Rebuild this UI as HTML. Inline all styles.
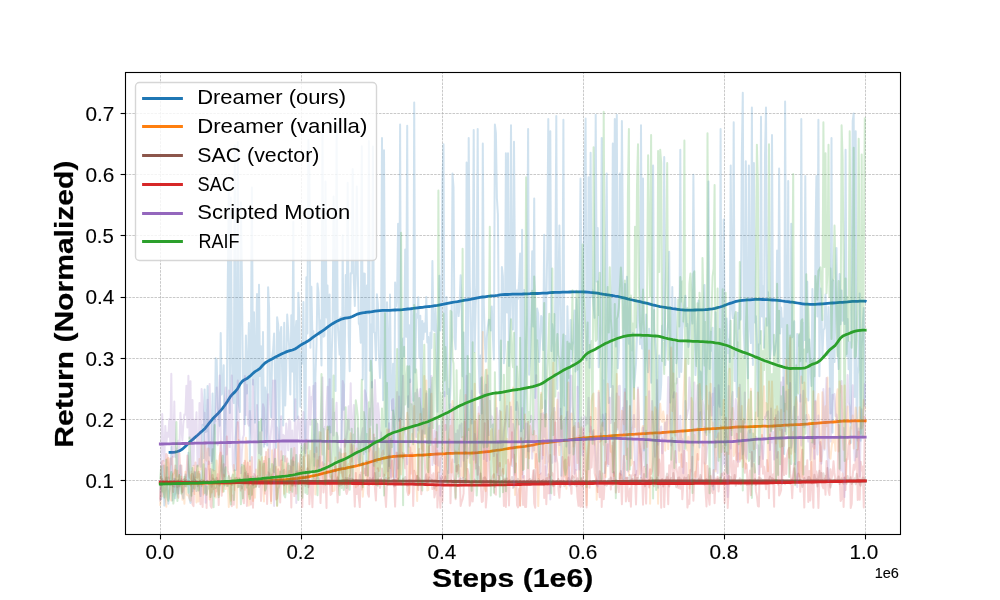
<!DOCTYPE html><html><head><meta charset="utf-8"><style>html,body{margin:0;padding:0;background:#fff;width:1000px;height:600px;overflow:hidden}svg{display:block;will-change:transform}text{font-family:"Liberation Sans",sans-serif;fill:#000}</style></head><body>
<svg width="1000" height="600" viewBox="0 0 1000 600">
<rect x="0" y="0" width="1000" height="600" fill="#fff"/>
<defs><clipPath id="ax"><rect x="125" y="72" width="776" height="463"/></clipPath></defs>
<g stroke="#b0b0b0" stroke-opacity="1.0" stroke-width="0.69" stroke-dasharray="2.57 1.11" fill="none"><line x1="160.5" y1="534" x2="160.5" y2="72"/><line x1="301.5" y1="534" x2="301.5" y2="72"/><line x1="442.5" y1="534" x2="442.5" y2="72"/><line x1="583.5" y1="534" x2="583.5" y2="72"/><line x1="724.5" y1="534" x2="724.5" y2="72"/><line x1="865.5" y1="534" x2="865.5" y2="72"/><line x1="125" y1="480.5" x2="900" y2="480.5"/><line x1="125" y1="419.5" x2="900" y2="419.5"/><line x1="125" y1="358.5" x2="900" y2="358.5"/><line x1="125" y1="297.5" x2="900" y2="297.5"/><line x1="125" y1="235.5" x2="900" y2="235.5"/><line x1="125" y1="174.5" x2="900" y2="174.5"/><line x1="125" y1="113.5" x2="900" y2="113.5"/></g>
<g clip-path="url(#ax)" fill="none" stroke-linejoin="round" stroke-linecap="square">
<path stroke="#1f77b4" stroke-width="2.0" stroke-opacity="0.21" d="M160.2 484.1L161.2 499.1L162.2 487.5L163.3 465.5L164.3 505.6L165.3 498.5L166.3 485.3L167.3 467.2L168.3 503.7L169.3 495.0L170.3 486.8L171.3 447.1L172.3 500.5L173.3 490.9L174.3 478.7L175.3 498.2L176.4 483.5L177.4 483.1L178.4 493.5L179.4 483.9L180.4 465.4L181.4 486.9L182.4 494.3L183.4 498.6L184.4 485.4L185.4 474.5L186.4 486.5L187.4 484.3L188.4 452.8L189.5 498.7L190.5 502.9L191.5 484.7L192.5 491.3L193.5 480.7L194.5 471.8L195.5 483.6L196.5 491.1L197.5 481.4L198.5 481.9L199.5 489.6L200.5 496.1L201.6 479.4L202.6 424.8L203.6 458.1L204.6 389.6L205.6 432.1L206.6 431.2L207.6 386.1L208.6 437.2L209.6 455.5L210.6 442.1L211.6 461.1L212.6 393.6L213.6 470.4L214.7 434.3L215.7 358.3L216.7 359.9L217.7 407.6L218.7 413.6L219.7 425.8L220.7 332.9L221.7 394.4L222.7 392.1L223.7 365.3L224.7 485.6L225.7 410.0L226.8 397.0L227.8 282.0L228.8 188.5L229.8 413.1L230.8 197.5L231.8 353.4L232.8 395.3L233.8 403.0L234.8 145.6L235.8 469.9L236.8 376.9L237.8 141.9L238.8 403.8L239.9 412.1L240.9 202.3L241.9 278.9L242.9 382.4L243.9 360.3L244.9 424.2L245.9 335.4L246.9 393.4L247.9 363.0L248.9 323.0L249.9 461.0L250.9 351.3L251.9 187.4L253.0 384.4L254.0 312.3L255.0 422.7L256.0 346.2L257.0 294.1L258.0 441.4L259.0 284.8L260.0 376.1L261.0 346.3L262.0 430.4L263.0 331.9L264.0 446.7L265.1 387.4L266.1 399.2L267.1 445.6L268.1 287.3L269.1 308.4L270.1 397.5L271.1 417.3L272.1 356.7L273.1 350.2L274.1 333.5L275.1 384.2L276.1 447.8L277.1 317.2L278.2 324.6L279.2 442.2L280.2 333.2L281.2 327.1L282.2 374.9L283.2 425.4L284.2 322.7L285.2 405.5L286.2 372.0L287.2 314.5L288.2 330.7L289.2 347.7L290.3 394.4L291.3 315.3L292.3 371.6L293.3 221.8L294.3 420.7L295.3 334.4L296.3 321.1L297.3 418.6L298.3 292.7L299.3 316.0L300.3 406.8L301.3 353.8L302.3 363.5L303.4 301.9L304.4 398.1L305.4 453.0L306.4 277.2L307.4 333.5L308.4 140.1L309.4 171.7L310.4 347.7L311.4 286.7L312.4 338.1L313.4 331.2L314.4 465.8L315.4 378.1L316.5 344.7L317.5 283.6L318.5 293.0L319.5 334.7L320.5 320.5L321.5 365.5L322.5 128.9L323.5 336.7L324.5 335.8L325.5 181.5L326.5 317.5L327.5 285.5L328.6 449.0L329.6 294.6L330.6 432.4L331.6 358.2L332.6 326.4L333.6 196.5L334.6 300.4L335.6 391.1L336.6 125.9L337.6 321.6L338.6 338.2L339.6 354.6L340.6 317.2L341.7 441.3L342.7 235.2L343.7 409.8L344.7 357.9L345.7 275.1L346.7 316.2L347.7 182.7L348.7 335.8L349.7 371.3L350.7 273.2L351.7 273.5L352.7 168.9L353.8 279.2L354.8 305.9L355.8 274.8L356.8 186.5L357.8 273.7L358.8 323.3L359.8 325.5L360.8 342.7L361.8 146.3L362.8 379.6L363.8 273.6L364.8 273.8L365.8 475.2L366.9 285.5L367.9 313.5L368.9 140.9L369.9 370.8L370.9 324.4L371.9 387.5L372.9 146.6L373.9 332.0L374.9 333.0L375.9 360.2L376.9 294.3L377.9 304.0L378.9 354.5L380.0 377.9L381.0 353.1L382.0 138.1L383.0 400.3L384.0 150.3L385.0 340.9L386.0 426.8L387.0 302.3L388.0 335.5L389.0 466.2L390.0 294.6L391.0 388.7L392.1 410.3L393.1 363.7L394.1 484.7L395.1 282.4L396.1 306.3L397.1 294.0L398.1 223.7L399.1 420.7L400.1 124.6L401.1 418.7L402.1 353.8L403.1 338.6L404.1 356.7L405.2 249.4L406.2 336.8L407.2 125.8L408.2 406.9L409.2 325.2L410.2 382.0L411.2 308.9L412.2 334.4L413.2 400.7L414.2 102.6L415.2 372.6L416.2 314.2L417.2 317.7L418.3 297.3L419.3 358.0L420.3 315.7L421.3 421.1L422.3 320.9L423.3 339.3L424.3 323.6L425.3 331.7L426.3 297.1L427.3 342.5L428.3 336.9L429.3 457.1L430.4 332.8L431.4 348.0L432.4 261.0L433.4 329.5L434.4 330.9L435.4 308.2L436.4 335.1L437.4 411.8L438.4 337.9L439.4 275.8L440.4 330.4L441.4 305.9L442.4 183.3L443.5 144.2L444.5 396.3L445.5 341.8L446.5 296.9L447.5 394.0L448.5 389.0L449.5 408.5L450.5 386.8L451.5 339.9L452.5 173.5L453.5 187.0L454.5 338.0L455.6 349.2L456.6 301.7L457.6 302.5L458.6 316.1L459.6 304.4L460.6 275.3L461.6 304.1L462.6 376.2L463.6 332.5L464.6 454.1L465.6 435.1L466.6 162.5L467.6 439.6L468.7 138.1L469.7 278.4L470.7 329.8L471.7 423.4L472.7 308.6L473.7 130.1L474.7 351.7L475.7 304.4L476.7 286.4L477.7 128.9L478.7 362.3L479.7 392.7L480.7 355.4L481.8 413.4L482.8 143.6L483.8 304.3L484.8 340.8L485.8 361.6L486.8 337.2L487.8 327.2L488.8 319.7L489.8 320.2L490.8 330.5L491.8 306.5L492.8 334.4L493.9 359.4L494.9 124.6L495.9 133.2L496.9 198.0L497.9 214.5L498.9 341.4L499.9 400.2L500.9 378.0L501.9 267.1L502.9 276.7L503.9 363.3L504.9 348.5L505.9 153.3L507.0 312.6L508.0 153.3L509.0 366.0L510.0 314.7L511.0 125.2L512.0 299.8L513.0 329.6L514.0 141.7L515.0 284.0L516.0 410.1L517.0 290.2L518.0 298.8L519.1 281.4L520.1 253.6L521.1 431.3L522.1 229.8L523.1 428.4L524.1 290.1L525.1 442.3L526.1 356.2L527.1 314.6L528.1 128.9L529.1 374.8L530.1 357.4L531.1 322.3L532.2 251.2L533.2 326.5L534.2 198.6L535.2 398.0L536.2 359.9L537.2 308.6L538.2 313.6L539.2 361.9L540.2 339.2L541.2 315.9L542.2 321.5L543.2 350.0L544.2 234.7L545.3 417.8L546.3 301.5L547.3 248.7L548.3 119.1L549.3 290.0L550.3 131.3L551.3 351.1L552.3 324.3L553.3 336.1L554.3 360.8L555.3 295.9L556.3 116.0L557.4 389.1L558.4 295.5L559.4 225.5L560.4 310.3L561.4 475.8L562.4 332.5L563.4 119.7L564.4 405.5L565.4 336.1L566.4 446.5L567.4 306.3L568.4 348.5L569.4 453.2L570.5 319.9L571.5 360.9L572.5 346.7L573.5 339.5L574.5 310.6L575.5 371.4L576.5 299.0L577.5 328.9L578.5 427.3L579.5 313.4L580.5 178.4L581.5 287.2L582.6 359.2L583.6 281.3L584.6 169.2L585.6 118.5L586.6 360.3L587.6 331.4L588.6 177.2L589.6 367.7L590.6 152.7L591.6 296.9L592.6 290.2L593.6 305.3L594.6 317.8L595.7 114.8L596.7 281.4L597.7 228.0L598.7 367.3L599.7 353.4L600.7 322.7L601.7 138.1L602.7 425.8L603.7 380.6L604.7 473.0L605.7 272.8L606.7 173.5L607.7 340.2L608.8 403.0L609.8 295.4L610.8 386.9L611.8 357.5L612.8 143.6L613.8 336.7L614.8 119.1L615.8 346.5L616.8 114.8L617.8 368.2L618.8 351.1L619.8 173.5L620.9 299.1L621.9 120.9L622.9 241.4L623.9 480.3L624.9 283.9L625.9 429.8L626.9 276.8L627.9 322.2L628.9 343.7L629.9 298.2L630.9 458.5L631.9 366.0L632.9 333.0L634.0 387.2L635.0 375.9L636.0 363.5L637.0 336.3L638.0 303.7L639.0 300.4L640.0 344.3L641.0 125.2L642.0 348.5L643.0 178.4L644.0 450.4L645.0 362.8L646.1 314.5L647.1 357.0L648.1 372.3L649.1 328.7L650.1 357.6L651.1 382.7L652.1 306.2L653.1 165.6L654.1 329.9L655.1 337.8L656.1 358.8L657.1 432.2L658.1 487.7L659.2 355.4L660.2 399.4L661.2 383.9L662.2 325.7L663.2 340.2L664.2 157.0L665.2 365.0L666.2 340.9L667.2 333.2L668.2 322.0L669.2 251.8L670.2 402.5L671.2 386.9L672.3 287.0L673.3 397.4L674.3 320.0L675.3 297.8L676.3 363.2L677.3 342.3L678.3 343.1L679.3 377.1L680.3 149.7L681.3 371.9L682.3 329.8L683.3 320.6L684.4 304.5L685.4 295.7L686.4 326.1L687.4 323.8L688.4 346.9L689.4 341.7L690.4 310.5L691.4 313.7L692.4 323.6L693.4 174.8L694.4 304.7L695.4 375.1L696.4 355.3L697.5 330.4L698.5 300.4L699.5 447.4L700.5 371.6L701.5 375.9L702.5 399.1L703.5 309.4L704.5 284.9L705.5 432.6L706.5 373.6L707.5 340.1L708.5 181.5L709.6 369.0L710.6 331.7L711.6 350.7L712.6 327.7L713.6 489.4L714.6 379.3L715.6 312.3L716.6 437.6L717.6 345.6L718.6 401.9L719.6 406.8L720.6 128.9L721.6 414.9L722.7 308.9L723.7 219.4L724.7 328.3L725.7 445.3L726.7 318.6L727.7 353.0L728.7 339.5L729.7 362.0L730.7 165.6L731.7 305.6L732.7 318.1L733.7 122.2L734.7 381.1L735.8 351.0L736.8 397.0L737.8 312.7L738.8 328.8L739.8 300.7L740.8 319.5L741.8 157.0L742.8 92.8L743.8 332.8L744.8 358.0L745.8 161.3L746.8 317.0L747.9 378.2L748.9 165.6L749.9 324.7L750.9 343.1L751.9 107.5L752.9 364.9L753.9 163.1L754.9 322.5L755.9 316.3L756.9 342.8L757.9 416.3L758.9 344.4L759.9 343.7L761.0 116.7L762.0 316.5L763.0 286.2L764.0 347.8L765.0 155.2L766.0 107.5L767.0 325.8L768.0 292.2L769.0 320.1L770.0 358.7L771.0 348.4L772.0 135.0L773.1 342.2L774.1 355.5L775.1 350.1L776.1 339.7L777.1 250.6L778.1 362.1L779.1 168.6L780.1 333.5L781.1 307.6L782.1 326.9L783.1 318.5L784.1 454.0L785.1 101.4L786.2 339.6L787.2 383.8L788.2 180.9L789.2 425.4L790.2 407.5L791.2 223.7L792.2 337.2L793.2 329.7L794.2 321.3L795.2 464.2L796.2 426.8L797.2 334.0L798.2 345.8L799.3 335.0L800.3 401.4L801.3 119.1L802.3 383.0L803.3 323.1L804.3 339.9L805.3 176.0L806.3 361.4L807.3 281.8L808.3 400.6L809.3 339.5L810.3 363.9L811.4 386.0L812.4 289.0L813.4 328.9L814.4 444.1L815.4 245.7L816.4 176.0L817.4 316.4L818.4 119.7L819.4 376.3L820.4 288.4L821.4 308.0L822.4 357.4L823.4 330.2L824.5 328.3L825.5 294.5L826.5 322.2L827.5 355.2L828.5 307.0L829.5 349.8L830.5 413.4L831.5 138.1L832.5 432.8L833.5 280.6L834.5 362.0L835.5 300.2L836.5 248.1L837.6 348.9L838.6 369.1L839.6 274.1L840.6 324.3L841.6 290.5L842.6 320.8L843.6 301.3L844.6 324.0L845.6 149.7L846.6 356.1L847.6 319.1L848.6 369.3L849.7 342.2L850.7 443.1L851.7 295.8L852.7 120.9L853.7 113.6L854.7 397.1L855.7 131.3L856.7 456.9L857.7 374.7L858.7 365.8L859.7 293.6L860.7 440.7L861.7 348.8L862.8 324.5L863.8 307.9L864.8 405.6"/>
<path stroke="#1f77b4" stroke-width="2.78" d="M170.0 452.3L172.5 452.3L175.0 452.1L177.5 451.5L180.0 450.6L182.5 449.0L185.0 446.8L187.5 444.3L190.0 441.8L192.5 439.6L195.0 437.4L197.5 435.2L200.0 432.9L202.5 430.7L205.0 428.4L207.5 425.4L210.0 422.1L212.5 419.1L215.0 416.6L217.5 414.1L220.0 411.3L222.5 408.3L225.0 405.0L227.5 401.2L230.0 397.2L232.5 394.1L235.0 391.9L237.5 388.9L240.0 384.2L242.5 381.0L245.0 379.5L247.5 378.2L250.0 376.2L252.5 373.8L255.0 371.6L257.5 370.1L260.0 368.4L262.5 365.5L265.0 363.0L267.5 361.4L270.0 360.0L272.5 358.7L275.0 357.3L277.5 356.1L280.0 354.8L282.5 353.5L285.0 352.4L287.5 351.4L290.0 350.7L292.5 350.0L295.0 349.0L297.5 347.4L300.0 345.6L302.5 344.0L305.0 342.7L307.5 341.3L310.0 339.6L312.5 337.7L315.0 335.9L317.5 334.2L320.0 332.5L322.5 330.8L325.0 329.1L327.5 327.2L330.0 325.4L332.5 323.7L335.0 322.3L337.5 320.9L340.0 319.7L342.5 318.8L345.0 318.2L347.5 317.8L350.0 317.4L352.5 316.5L355.0 315.2L357.5 314.1L360.0 313.4L362.5 312.9L365.0 312.5L367.5 312.2L370.0 312.0L372.5 311.6L375.0 311.2L377.5 310.8L380.0 310.6L382.5 310.4L385.0 310.4L387.5 310.4L390.0 310.3L392.5 310.1L395.0 310.0L397.5 309.9L400.0 309.8L402.5 309.6L405.0 309.3L407.5 309.0L410.0 308.8L412.5 308.5L415.0 308.1L417.5 307.8L420.0 307.5L422.5 307.3L425.0 306.9L427.5 306.7L430.0 306.5L432.5 306.1L435.0 305.7L437.5 305.3L440.0 304.8L442.5 304.3L445.0 303.8L447.5 303.3L450.0 302.8L452.5 302.4L455.0 302.0L457.5 301.6L460.0 301.1L462.5 300.7L465.0 300.2L467.5 299.8L470.0 299.4L472.5 298.9L475.0 298.3L477.5 297.8L480.0 297.3L482.5 297.0L485.0 296.8L487.5 296.4L490.0 296.0L492.5 295.8L495.0 295.6L497.5 295.3L500.0 294.9L502.5 294.7L505.0 294.5L507.5 294.5L510.0 294.4L512.5 294.2L515.0 294.1L517.5 294.1L520.0 294.1L522.5 294.0L525.0 293.8L527.5 293.8L530.0 293.7L532.5 293.5L535.0 293.5L537.5 293.5L540.0 293.4L542.5 293.2L545.0 293.1L547.5 293.0L550.0 292.7L552.5 292.5L555.0 292.4L557.5 292.3L560.0 292.3L562.5 292.2L565.0 292.2L567.5 292.2L570.0 292.0L572.5 291.9L575.0 291.9L577.5 291.9L580.0 291.9L582.5 291.9L585.0 292.0L587.5 292.1L590.0 292.4L592.5 292.6L595.0 292.9L597.5 293.2L600.0 293.7L602.5 294.1L605.0 294.5L607.5 294.8L610.0 295.2L612.5 295.5L615.0 296.0L617.5 296.4L620.0 297.0L622.5 297.6L625.0 298.2L627.5 298.9L630.0 299.5L632.5 300.0L635.0 300.6L637.5 301.2L640.0 301.7L642.5 302.3L645.0 302.8L647.5 303.4L650.0 304.1L652.5 304.8L655.0 305.4L657.5 306.0L660.0 306.6L662.5 307.0L665.0 307.4L667.5 307.8L670.0 308.2L672.5 308.6L675.0 308.9L677.5 309.3L680.0 309.7L682.5 309.9L685.0 310.1L687.5 310.2L690.0 310.2L692.5 310.1L695.0 310.0L697.5 309.9L700.0 309.9L702.5 309.8L705.0 309.7L707.5 309.5L710.0 309.2L712.5 308.9L715.0 308.4L717.5 307.7L720.0 307.0L722.5 306.2L725.0 305.2L727.5 304.3L730.0 303.4L732.5 302.6L735.0 301.7L737.5 301.1L740.0 300.7L742.5 300.3L745.0 300.1L747.5 299.9L750.0 299.8L752.5 299.6L755.0 299.4L757.5 299.3L760.0 299.4L762.5 299.5L765.0 299.6L767.5 299.7L770.0 299.8L772.5 300.0L775.0 300.2L777.5 300.4L780.0 300.6L782.5 301.0L785.0 301.4L787.5 301.7L790.0 302.0L792.5 302.2L795.0 302.6L797.5 303.0L800.0 303.4L802.5 303.8L805.0 304.2L807.5 304.2L810.0 304.3L812.5 304.4L815.0 304.4L817.5 304.2L820.0 304.0L822.5 303.9L825.0 303.6L827.5 303.4L830.0 303.2L832.5 303.0L835.0 302.8L837.5 302.6L840.0 302.4L842.5 302.3L845.0 302.1L847.5 301.9L850.0 301.6L852.5 301.4L855.0 301.4L857.5 301.3L860.0 301.1L862.5 301.1L865.0 301.1L865.2 301.2"/>
<path stroke="#ff7f0e" stroke-width="2.0" stroke-opacity="0.19" d="M160.2 504.9L161.2 476.8L162.2 496.3L163.3 489.7L164.3 465.6L165.3 497.7L166.3 506.7L167.3 459.1L168.3 458.0L169.3 481.0L170.3 498.6L171.3 500.6L172.3 475.9L173.3 473.9L174.3 472.9L175.3 469.7L176.4 482.3L177.4 470.7L178.4 482.8L179.4 475.3L180.4 486.5L181.4 476.8L182.4 499.8L183.4 486.4L184.4 503.8L185.4 471.8L186.4 493.6L187.4 495.2L188.4 494.6L189.5 498.4L190.5 500.6L191.5 471.8L192.5 473.2L193.5 465.8L194.5 493.9L195.5 477.8L196.5 502.4L197.5 466.1L198.5 501.6L199.5 459.0L200.5 469.5L201.6 443.4L202.6 473.0L203.6 494.6L204.6 441.7L205.6 458.0L206.6 460.6L207.6 448.7L208.6 448.5L209.6 499.4L210.6 485.6L211.6 492.5L212.6 469.7L213.6 488.9L214.7 470.9L215.7 497.4L216.7 460.4L217.7 469.7L218.7 494.7L219.7 455.7L220.7 452.6L221.7 469.8L222.7 492.0L223.7 474.4L224.7 479.0L225.7 489.1L226.8 482.2L227.8 483.6L228.8 507.0L229.8 481.8L230.8 500.8L231.8 481.4L232.8 484.6L233.8 465.0L234.8 489.8L235.8 477.9L236.8 507.7L237.8 458.7L238.8 440.0L239.9 482.4L240.9 470.4L241.9 467.1L242.9 483.0L243.9 463.0L244.9 489.7L245.9 437.8L246.9 449.9L247.9 490.9L248.9 505.6L249.9 460.8L250.9 477.3L251.9 493.5L253.0 500.9L254.0 482.0L255.0 497.8L256.0 469.5L257.0 478.6L258.0 471.6L259.0 459.8L260.0 475.5L261.0 467.7L262.0 457.2L263.0 469.5L264.0 501.5L265.1 456.7L266.1 473.9L267.1 467.9L268.1 449.4L269.1 482.2L270.1 469.3L271.1 503.3L272.1 450.2L273.1 479.3L274.1 482.6L275.1 482.7L276.1 466.9L277.1 506.0L278.2 442.8L279.2 475.3L280.2 479.3L281.2 451.3L282.2 460.8L283.2 467.5L284.2 493.8L285.2 456.3L286.2 471.8L287.2 491.9L288.2 479.8L289.2 471.0L290.3 490.1L291.3 460.2L292.3 486.2L293.3 459.2L294.3 447.9L295.3 466.6L296.3 493.6L297.3 473.2L298.3 463.3L299.3 468.2L300.3 481.0L301.3 467.5L302.3 480.1L303.4 474.4L304.4 451.0L305.4 442.1L306.4 439.9L307.4 461.5L308.4 482.7L309.4 476.9L310.4 451.1L311.4 469.0L312.4 442.5L313.4 477.2L314.4 453.9L315.4 494.4L316.5 475.9L317.5 460.2L318.5 462.0L319.5 466.2L320.5 432.5L321.5 466.8L322.5 474.2L323.5 480.5L324.5 464.1L325.5 483.2L326.5 479.7L327.5 427.3L328.6 460.7L329.6 444.3L330.6 476.5L331.6 475.4L332.6 491.1L333.6 491.1L334.6 490.0L335.6 457.5L336.6 483.4L337.6 481.9L338.6 477.0L339.6 452.4L340.6 472.7L341.7 454.0L342.7 484.0L343.7 453.7L344.7 464.9L345.7 453.2L346.7 485.0L347.7 466.6L348.7 463.7L349.7 476.1L350.7 433.2L351.7 461.6L352.7 452.6L353.8 445.6L354.8 457.9L355.8 487.3L356.8 448.5L357.8 485.7L358.8 473.1L359.8 458.7L360.8 450.2L361.8 457.6L362.8 496.7L363.8 482.6L364.8 474.5L365.8 461.2L366.9 483.9L367.9 474.4L368.9 451.7L369.9 428.7L370.9 449.0L371.9 451.3L372.9 485.0L373.9 477.0L374.9 457.0L375.9 451.9L376.9 468.6L377.9 440.7L378.9 470.9L380.0 467.8L381.0 458.0L382.0 453.1L383.0 450.5L384.0 459.4L385.0 475.6L386.0 471.2L387.0 429.6L388.0 478.6L389.0 429.5L390.0 468.3L391.0 434.5L392.1 465.8L393.1 476.8L394.1 458.9L395.1 457.5L396.1 452.6L397.1 475.6L398.1 484.4L399.1 461.2L400.1 420.4L401.1 474.5L402.1 459.3L403.1 427.1L404.1 429.5L405.2 430.5L406.2 426.6L407.2 412.8L408.2 423.1L409.2 493.6L410.2 471.9L411.2 448.6L412.2 433.8L413.2 482.6L414.2 406.0L415.2 469.4L416.2 476.2L417.2 500.9L418.3 434.1L419.3 431.9L420.3 414.1L421.3 448.8L422.3 445.8L423.3 451.3L424.3 376.1L425.3 437.3L426.3 380.6L427.3 490.4L428.3 489.9L429.3 427.7L430.4 439.6L431.4 393.7L432.4 455.1L433.4 446.4L434.4 463.1L435.4 438.7L436.4 490.2L437.4 450.8L438.4 467.1L439.4 472.3L440.4 458.1L441.4 457.5L442.4 455.8L443.5 415.9L444.5 480.4L445.5 474.4L446.5 452.7L447.5 453.3L448.5 444.4L449.5 432.3L450.5 425.8L451.5 472.6L452.5 400.9L453.5 448.5L454.5 452.0L455.6 451.2L456.6 471.8L457.6 469.8L458.6 452.4L459.6 446.8L460.6 440.8L461.6 475.9L462.6 437.0L463.6 476.9L464.6 428.6L465.6 394.9L466.6 481.0L467.6 441.1L468.7 428.9L469.7 462.8L470.7 419.2L471.7 485.8L472.7 465.8L473.7 438.5L474.7 383.7L475.7 462.7L476.7 438.7L477.7 439.0L478.7 413.4L479.7 438.7L480.7 467.5L481.8 482.5L482.8 332.1L483.8 445.1L484.8 488.2L485.8 491.1L486.8 369.4L487.8 419.4L488.8 451.3L489.8 459.7L490.8 431.4L491.8 429.1L492.8 443.0L493.9 477.5L494.9 441.1L495.9 391.9L496.9 472.5L497.9 465.4L498.9 430.6L499.9 466.3L500.9 411.7L501.9 430.3L502.9 470.9L503.9 473.8L504.9 390.9L505.9 463.5L507.0 438.8L508.0 441.7L509.0 482.4L510.0 402.4L511.0 464.8L512.0 412.8L513.0 387.6L514.0 452.7L515.0 495.0L516.0 460.8L517.0 419.5L518.0 425.6L519.1 465.4L520.1 505.4L521.1 438.7L522.1 474.2L523.1 449.4L524.1 469.1L525.1 414.4L526.1 457.2L527.1 440.6L528.1 447.5L529.1 458.3L530.1 425.8L531.1 434.3L532.2 435.0L533.2 451.6L534.2 431.0L535.2 467.8L536.2 435.8L537.2 447.8L538.2 506.1L539.2 473.9L540.2 451.4L541.2 392.7L542.2 412.0L543.2 455.3L544.2 414.8L545.3 463.4L546.3 414.0L547.3 449.4L548.3 461.4L549.3 477.6L550.3 444.7L551.3 418.0L552.3 411.4L553.3 362.7L554.3 454.8L555.3 412.3L556.3 418.0L557.4 399.7L558.4 444.5L559.4 455.1L560.4 418.3L561.4 416.0L562.4 445.2L563.4 459.9L564.4 476.4L565.4 441.8L566.4 488.8L567.4 461.0L568.4 382.4L569.4 465.6L570.5 452.7L571.5 413.5L572.5 425.4L573.5 446.5L574.5 426.0L575.5 442.4L576.5 437.2L577.5 463.1L578.5 423.0L579.5 432.4L580.5 435.9L581.5 427.2L582.6 435.3L583.6 449.2L584.6 435.9L585.6 454.1L586.6 505.2L587.6 461.8L588.6 449.1L589.6 437.2L590.6 428.2L591.6 400.4L592.6 395.5L593.6 393.5L594.6 444.5L595.7 407.9L596.7 499.7L597.7 470.3L598.7 390.7L599.7 441.8L600.7 440.9L601.7 425.7L602.7 422.5L603.7 444.8L604.7 437.7L605.7 477.0L606.7 426.8L607.7 383.8L608.8 410.7L609.8 430.9L610.8 451.8L611.8 445.8L612.8 458.6L613.8 476.0L614.8 422.8L615.8 433.4L616.8 373.9L617.8 427.6L618.8 396.5L619.8 478.5L620.9 439.6L621.9 410.7L622.9 412.3L623.9 424.2L624.9 392.4L625.9 456.6L626.9 459.0L627.9 448.4L628.9 475.0L629.9 406.6L630.9 465.4L631.9 463.2L632.9 440.4L634.0 388.2L635.0 426.9L636.0 419.6L637.0 431.0L638.0 389.6L639.0 416.8L640.0 474.2L641.0 467.5L642.0 428.6L643.0 426.0L644.0 448.5L645.0 424.2L646.1 396.8L647.1 447.0L648.1 394.2L649.1 350.6L650.1 503.7L651.1 450.6L652.1 411.6L653.1 435.5L654.1 431.7L655.1 407.3L656.1 410.1L657.1 452.5L658.1 503.7L659.2 417.0L660.2 403.7L661.2 418.8L662.2 421.9L663.2 411.4L664.2 418.4L665.2 450.6L666.2 424.9L667.2 415.3L668.2 449.1L669.2 428.8L670.2 400.5L671.2 347.4L672.3 411.1L673.3 373.6L674.3 432.6L675.3 435.6L676.3 393.3L677.3 435.8L678.3 442.0L679.3 462.2L680.3 431.3L681.3 438.7L682.3 466.9L683.3 406.0L684.4 376.7L685.4 359.7L686.4 444.0L687.4 450.3L688.4 436.7L689.4 488.5L690.4 446.6L691.4 398.0L692.4 402.7L693.4 445.4L694.4 435.1L695.4 476.9L696.4 463.7L697.5 428.0L698.5 459.7L699.5 383.9L700.5 399.6L701.5 415.8L702.5 420.5L703.5 445.5L704.5 427.0L705.5 481.4L706.5 386.1L707.5 408.7L708.5 405.7L709.6 432.4L710.6 383.8L711.6 425.5L712.6 422.4L713.6 442.2L714.6 440.7L715.6 471.4L716.6 442.5L717.6 436.7L718.6 433.3L719.6 457.3L720.6 425.7L721.6 451.9L722.7 437.8L723.7 399.8L724.7 454.7L725.7 417.9L726.7 436.9L727.7 437.2L728.7 454.1L729.7 368.8L730.7 422.1L731.7 430.1L732.7 408.1L733.7 456.0L734.7 451.9L735.8 421.2L736.8 459.7L737.8 429.2L738.8 387.8L739.8 459.6L740.8 426.9L741.8 405.9L742.8 467.0L743.8 418.9L744.8 426.0L745.8 468.6L746.8 427.7L747.9 407.7L748.9 399.6L749.9 432.6L750.9 388.8L751.9 420.7L752.9 425.6L753.9 449.3L754.9 438.6L755.9 412.5L756.9 425.4L757.9 392.4L758.9 418.8L759.9 426.1L761.0 363.1L762.0 438.3L763.0 414.0L764.0 386.2L765.0 418.2L766.0 402.9L767.0 404.2L768.0 471.2L769.0 381.6L770.0 437.1L771.0 424.2L772.0 381.4L773.1 429.2L774.1 425.8L775.1 409.6L776.1 443.5L777.1 406.2L778.1 423.0L779.1 434.3L780.1 446.9L781.1 409.7L782.1 481.4L783.1 441.3L784.1 445.8L785.1 409.6L786.2 359.7L787.2 409.4L788.2 390.1L789.2 457.8L790.2 337.6L791.2 453.8L792.2 442.6L793.2 431.7L794.2 461.4L795.2 406.6L796.2 397.1L797.2 404.5L798.2 464.8L799.3 476.5L800.3 436.1L801.3 376.6L802.3 477.8L803.3 453.7L804.3 382.5L805.3 402.4L806.3 398.7L807.3 419.9L808.3 414.8L809.3 418.3L810.3 430.1L811.4 482.8L812.4 430.3L813.4 391.2L814.4 448.6L815.4 401.8L816.4 426.9L817.4 401.5L818.4 394.1L819.4 428.1L820.4 461.1L821.4 460.9L822.4 392.3L823.4 413.0L824.5 448.6L825.5 406.3L826.5 426.2L827.5 377.5L828.5 443.0L829.5 457.3L830.5 458.7L831.5 447.6L832.5 439.8L833.5 442.4L834.5 437.1L835.5 450.7L836.5 398.8L837.6 389.3L838.6 451.6L839.6 381.4L840.6 392.2L841.6 386.1L842.6 437.0L843.6 449.7L844.6 385.6L845.6 482.3L846.6 430.8L847.6 406.4L848.6 437.4L849.7 444.3L850.7 427.3L851.7 428.1L852.7 415.4L853.7 448.4L854.7 424.4L855.7 407.5L856.7 419.4L857.7 449.5L858.7 438.8L859.7 407.3L860.7 428.2L861.7 428.3L862.8 425.5L863.8 400.1L864.8 409.4"/>
<path stroke="#ff7f0e" stroke-width="2.78" d="M160.3 483.6L162.8 483.6L165.3 483.5L167.8 483.4L170.3 483.4L172.8 483.3L175.3 483.4L177.8 483.4L180.3 483.4L182.8 483.5L185.3 483.6L187.8 483.5L190.3 483.4L192.8 483.4L195.3 483.3L197.8 483.3L200.3 483.4L202.8 483.3L205.3 483.2L207.8 483.1L210.3 483.1L212.8 483.1L215.3 483.1L217.8 483.1L220.3 483.1L222.8 483.1L225.3 483.1L227.8 483.1L230.3 483.1L232.8 482.9L235.3 482.8L237.8 482.7L240.3 482.5L242.8 482.3L245.3 482.1L247.8 482.0L250.3 481.8L252.8 481.7L255.3 481.5L257.8 481.3L260.3 481.1L262.8 481.0L265.3 480.9L267.8 480.8L270.3 480.6L272.8 480.4L275.3 480.3L277.8 480.2L280.3 480.0L282.8 479.8L285.3 479.6L287.8 479.3L290.3 479.2L292.8 478.9L295.3 478.6L297.8 478.3L300.3 477.9L302.8 477.6L305.3 477.3L307.8 476.8L310.3 476.4L312.8 475.9L315.3 475.4L317.8 474.8L320.3 474.1L322.8 473.5L325.3 472.9L327.8 472.2L330.3 471.6L332.8 470.9L335.3 470.3L337.8 469.7L340.3 469.2L342.8 468.7L345.3 468.3L347.8 467.7L350.3 467.2L352.8 466.6L355.3 466.1L357.8 465.5L360.3 464.8L362.8 464.1L365.3 463.5L367.8 462.8L370.3 462.0L372.8 461.2L375.3 460.4L377.8 459.7L380.3 459.1L382.8 458.4L385.3 457.8L387.8 457.3L390.3 456.9L392.8 456.5L395.3 456.3L397.8 456.1L400.3 456.0L402.8 455.9L405.3 455.7L407.8 455.6L410.3 455.6L412.8 455.6L415.3 455.4L417.8 455.2L420.3 455.1L422.8 455.0L425.3 454.8L427.8 454.6L430.3 454.5L432.8 454.4L435.3 454.2L437.8 454.0L440.3 453.8L442.8 453.8L445.3 453.7L447.8 453.4L450.3 453.3L452.8 453.4L455.3 453.2L457.8 453.1L460.3 453.1L462.8 453.1L465.3 453.0L467.8 453.1L470.3 453.2L472.8 453.0L475.3 452.8L477.8 452.7L480.3 452.4L482.8 452.1L485.3 451.8L487.8 451.6L490.3 451.4L492.8 450.9L495.3 450.5L497.8 450.1L500.3 449.9L502.8 449.5L505.3 449.0L507.8 448.6L510.3 448.2L512.8 447.8L515.3 447.5L517.8 447.1L520.3 446.8L522.8 446.6L525.3 446.3L527.8 445.9L530.3 445.5L532.8 445.1L535.3 444.5L537.8 443.9L540.3 443.4L542.8 443.0L545.3 442.7L547.8 442.5L550.3 442.2L552.8 441.8L555.3 441.3L557.8 441.0L560.3 440.8L562.8 440.5L565.3 440.3L567.8 440.1L570.3 439.7L572.8 439.3L575.3 439.0L577.8 438.7L580.3 438.3L582.8 438.0L585.3 437.9L587.8 437.6L590.3 437.3L592.8 437.1L595.3 437.0L597.8 436.8L600.3 436.6L602.8 436.5L605.3 436.3L607.8 436.1L610.3 435.8L612.8 435.6L615.3 435.4L617.8 435.3L620.3 435.1L622.8 435.0L625.3 434.8L627.8 434.6L630.3 434.4L632.8 434.3L635.3 434.2L637.8 434.0L640.3 433.8L642.8 433.7L645.3 433.6L647.8 433.4L650.3 433.2L652.8 433.1L655.3 432.9L657.8 432.9L660.3 432.8L662.8 432.5L665.3 432.3L667.8 432.1L670.3 431.9L672.8 431.8L675.3 431.6L677.8 431.4L680.3 431.2L682.8 431.0L685.3 430.8L687.8 430.6L690.3 430.4L692.8 430.2L695.3 429.9L697.8 429.7L700.3 429.5L702.8 429.3L705.3 429.1L707.8 428.9L710.3 428.8L712.8 428.7L715.3 428.6L717.8 428.4L720.3 428.2L722.8 427.9L725.3 427.8L727.8 427.8L730.3 427.6L732.8 427.4L735.3 427.2L737.8 427.0L740.3 426.9L742.8 426.8L745.3 426.8L747.8 426.8L750.3 426.7L752.8 426.6L755.3 426.5L757.8 426.4L760.3 426.3L762.8 426.2L765.3 426.2L767.8 426.3L770.3 426.1L772.8 426.0L775.3 425.8L777.8 425.7L780.3 425.6L782.8 425.4L785.3 425.2L787.8 425.1L790.3 424.9L792.8 424.8L795.3 424.7L797.8 424.6L800.3 424.5L802.8 424.3L805.3 424.1L807.8 424.0L810.3 423.7L812.8 423.5L815.3 423.4L817.8 423.1L820.3 422.8L822.8 422.6L825.3 422.5L827.8 422.4L830.3 422.2L832.8 422.0L835.3 421.8L837.8 421.5L840.3 421.3L842.8 421.1L845.3 421.0L847.8 421.0L850.3 421.1L852.8 420.9L855.3 420.8L857.8 420.8L860.3 420.8L862.8 420.8L865.2 420.8"/>
<path stroke="#8c564b" stroke-width="2.0" stroke-opacity="0.21" d="M160.2 481.2L161.2 484.5L162.2 479.0L163.3 481.8L164.3 484.2L165.3 481.7L166.3 477.5L167.3 481.8L168.3 477.5L169.3 482.6L170.3 484.1L171.3 481.5L172.3 485.1L173.3 486.0L174.3 486.6L175.3 479.2L176.4 482.8L177.4 487.2L178.4 480.1L179.4 485.8L180.4 484.2L181.4 479.3L182.4 484.6L183.4 479.8L184.4 483.8L185.4 481.9L186.4 480.0L187.4 482.0L188.4 482.2L189.5 481.6L190.5 485.6L191.5 481.9L192.5 473.7L193.5 478.5L194.5 482.9L195.5 480.2L196.5 481.5L197.5 486.0L198.5 483.7L199.5 482.2L200.5 481.2L201.6 483.8L202.6 483.3L203.6 481.0L204.6 480.8L205.6 483.4L206.6 483.1L207.6 480.7L208.6 484.0L209.6 481.3L210.6 469.0L211.6 486.7L212.6 478.6L213.6 479.0L214.7 480.4L215.7 479.7L216.7 477.7L217.7 479.9L218.7 483.9L219.7 485.5L220.7 482.0L221.7 481.5L222.7 482.3L223.7 483.5L224.7 483.7L225.7 483.6L226.8 482.4L227.8 486.1L228.8 482.1L229.8 482.9L230.8 480.4L231.8 484.8L232.8 482.1L233.8 482.8L234.8 483.1L235.8 481.2L236.8 481.1L237.8 479.8L238.8 478.4L239.9 479.1L240.9 480.1L241.9 488.5L242.9 483.1L243.9 482.4L244.9 473.1L245.9 480.8L246.9 480.6L247.9 473.7L248.9 484.7L249.9 481.8L250.9 477.0L251.9 482.9L253.0 485.2L254.0 480.7L255.0 482.1L256.0 482.0L257.0 479.9L258.0 482.4L259.0 487.0L260.0 484.1L261.0 482.4L262.0 479.8L263.0 483.3L264.0 480.7L265.1 479.4L266.1 478.5L267.1 483.7L268.1 481.8L269.1 481.5L270.1 482.5L271.1 478.2L272.1 482.7L273.1 479.4L274.1 483.1L275.1 480.1L276.1 478.4L277.1 478.4L278.2 482.5L279.2 482.4L280.2 480.5L281.2 479.0L282.2 482.1L283.2 479.6L284.2 485.3L285.2 480.8L286.2 480.2L287.2 484.3L288.2 481.8L289.2 479.3L290.3 478.4L291.3 482.9L292.3 485.2L293.3 476.9L294.3 485.4L295.3 485.7L296.3 479.9L297.3 480.2L298.3 484.1L299.3 479.7L300.3 478.9L301.3 483.1L302.3 479.6L303.4 476.6L304.4 481.9L305.4 485.9L306.4 471.0L307.4 468.4L308.4 487.2L309.4 480.7L310.4 482.9L311.4 479.0L312.4 481.8L313.4 481.0L314.4 482.9L315.4 482.4L316.5 478.9L317.5 477.4L318.5 478.3L319.5 483.0L320.5 482.9L321.5 481.5L322.5 480.9L323.5 484.1L324.5 482.9L325.5 482.9L326.5 482.8L327.5 483.5L328.6 480.4L329.6 484.3L330.6 484.2L331.6 478.9L332.6 472.4L333.6 483.2L334.6 471.5L335.6 480.5L336.6 480.0L337.6 477.4L338.6 480.6L339.6 485.7L340.6 481.7L341.7 484.8L342.7 481.2L343.7 481.3L344.7 484.4L345.7 477.9L346.7 479.9L347.7 478.0L348.7 484.1L349.7 478.6L350.7 480.3L351.7 478.6L352.7 479.3L353.8 481.7L354.8 483.2L355.8 480.0L356.8 480.3L357.8 484.1L358.8 484.5L359.8 474.7L360.8 482.0L361.8 484.5L362.8 484.2L363.8 483.3L364.8 480.6L365.8 483.7L366.9 480.0L367.9 482.7L368.9 485.0L369.9 478.1L370.9 479.3L371.9 480.5L372.9 478.3L373.9 481.9L374.9 473.1L375.9 484.9L376.9 484.9L377.9 479.2L378.9 483.2L380.0 480.2L381.0 478.7L382.0 482.2L383.0 483.7L384.0 481.7L385.0 480.0L386.0 478.1L387.0 479.3L388.0 483.9L389.0 478.1L390.0 484.3L391.0 482.0L392.1 482.5L393.1 483.4L394.1 486.5L395.1 485.7L396.1 481.5L397.1 482.7L398.1 478.4L399.1 481.9L400.1 482.9L401.1 480.7L402.1 484.6L403.1 478.6L404.1 480.9L405.2 476.9L406.2 484.1L407.2 485.5L408.2 485.4L409.2 479.9L410.2 482.0L411.2 479.6L412.2 483.8L413.2 484.6L414.2 483.1L415.2 482.1L416.2 480.3L417.2 475.9L418.3 479.2L419.3 478.3L420.3 482.6L421.3 483.5L422.3 484.3L423.3 482.4L424.3 483.9L425.3 478.1L426.3 474.3L427.3 485.4L428.3 483.1L429.3 477.4L430.4 481.0L431.4 479.5L432.4 480.7L433.4 482.0L434.4 488.5L435.4 482.2L436.4 486.1L437.4 479.9L438.4 472.6L439.4 481.3L440.4 478.2L441.4 480.3L442.4 483.8L443.5 479.8L444.5 482.3L445.5 476.4L446.5 483.4L447.5 481.0L448.5 482.8L449.5 481.7L450.5 480.8L451.5 480.0L452.5 484.7L453.5 483.1L454.5 480.1L455.6 481.3L456.6 481.7L457.6 484.8L458.6 479.6L459.6 485.3L460.6 478.6L461.6 485.7L462.6 477.7L463.6 482.4L464.6 483.5L465.6 479.2L466.6 483.3L467.6 480.6L468.7 481.0L469.7 482.4L470.7 483.5L471.7 481.9L472.7 484.6L473.7 481.8L474.7 479.6L475.7 483.5L476.7 481.3L477.7 481.9L478.7 484.5L479.7 481.2L480.7 473.4L481.8 484.0L482.8 483.9L483.8 477.8L484.8 477.3L485.8 479.3L486.8 481.5L487.8 481.9L488.8 481.9L489.8 480.4L490.8 484.0L491.8 482.5L492.8 485.7L493.9 481.4L494.9 487.0L495.9 480.6L496.9 483.9L497.9 482.7L498.9 475.9L499.9 484.1L500.9 484.0L501.9 480.8L502.9 481.7L503.9 479.6L504.9 480.6L505.9 480.5L507.0 478.4L508.0 483.1L509.0 482.4L510.0 480.1L511.0 481.5L512.0 476.9L513.0 488.0L514.0 480.6L515.0 481.9L516.0 484.2L517.0 481.5L518.0 478.9L519.1 484.1L520.1 480.9L521.1 483.2L522.1 482.6L523.1 483.9L524.1 483.0L525.1 481.2L526.1 481.7L527.1 480.8L528.1 481.3L529.1 480.0L530.1 478.9L531.1 481.4L532.2 480.3L533.2 480.4L534.2 469.9L535.2 482.3L536.2 482.3L537.2 482.8L538.2 479.2L539.2 481.1L540.2 481.2L541.2 483.6L542.2 481.2L543.2 479.8L544.2 485.3L545.3 481.4L546.3 478.1L547.3 484.7L548.3 474.3L549.3 479.9L550.3 476.7L551.3 482.5L552.3 480.0L553.3 486.2L554.3 485.5L555.3 482.4L556.3 481.2L557.4 483.9L558.4 479.0L559.4 482.0L560.4 487.0L561.4 480.7L562.4 480.9L563.4 480.8L564.4 486.2L565.4 484.7L566.4 481.7L567.4 483.6L568.4 477.9L569.4 484.8L570.5 485.0L571.5 479.0L572.5 476.1L573.5 477.4L574.5 485.0L575.5 480.5L576.5 486.3L577.5 478.2L578.5 484.2L579.5 482.4L580.5 484.9L581.5 477.9L582.6 486.3L583.6 480.9L584.6 480.8L585.6 480.5L586.6 483.6L587.6 484.0L588.6 482.1L589.6 482.0L590.6 481.4L591.6 482.2L592.6 483.2L593.6 483.9L594.6 481.8L595.7 480.3L596.7 484.5L597.7 482.2L598.7 479.8L599.7 471.3L600.7 481.4L601.7 482.8L602.7 482.5L603.7 481.8L604.7 484.9L605.7 483.4L606.7 485.6L607.7 483.0L608.8 479.3L609.8 481.9L610.8 477.5L611.8 480.5L612.8 485.1L613.8 472.3L614.8 481.3L615.8 480.3L616.8 480.4L617.8 482.7L618.8 483.2L619.8 482.4L620.9 470.9L621.9 478.7L622.9 480.3L623.9 481.3L624.9 483.6L625.9 477.8L626.9 479.3L627.9 477.5L628.9 482.3L629.9 475.1L630.9 479.4L631.9 479.1L632.9 479.0L634.0 480.6L635.0 474.7L636.0 484.7L637.0 478.0L638.0 478.2L639.0 483.1L640.0 482.3L641.0 478.0L642.0 481.2L643.0 482.2L644.0 474.0L645.0 486.3L646.1 482.2L647.1 481.2L648.1 481.7L649.1 479.8L650.1 484.3L651.1 477.5L652.1 478.2L653.1 484.4L654.1 486.3L655.1 482.3L656.1 482.3L657.1 477.6L658.1 482.4L659.2 481.6L660.2 484.8L661.2 484.0L662.2 478.9L663.2 486.4L664.2 482.5L665.2 483.0L666.2 477.7L667.2 473.6L668.2 479.3L669.2 486.5L670.2 480.2L671.2 477.9L672.3 483.0L673.3 473.1L674.3 479.6L675.3 481.5L676.3 487.2L677.3 484.0L678.3 477.7L679.3 477.5L680.3 483.5L681.3 479.5L682.3 482.0L683.3 482.0L684.4 477.4L685.4 479.2L686.4 477.8L687.4 481.4L688.4 474.9L689.4 480.4L690.4 480.6L691.4 481.1L692.4 479.3L693.4 480.6L694.4 480.8L695.4 479.3L696.4 481.7L697.5 480.8L698.5 478.8L699.5 479.9L700.5 475.0L701.5 480.1L702.5 483.6L703.5 482.0L704.5 484.5L705.5 482.1L706.5 479.1L707.5 480.4L708.5 482.1L709.6 468.5L710.6 478.5L711.6 482.5L712.6 486.3L713.6 483.1L714.6 481.5L715.6 481.9L716.6 482.6L717.6 478.7L718.6 481.1L719.6 477.8L720.6 477.7L721.6 481.9L722.7 479.6L723.7 478.6L724.7 479.4L725.7 480.6L726.7 480.4L727.7 481.4L728.7 475.7L729.7 479.4L730.7 476.9L731.7 479.9L732.7 481.6L733.7 482.5L734.7 475.0L735.8 485.8L736.8 481.9L737.8 481.6L738.8 483.9L739.8 478.3L740.8 484.4L741.8 479.6L742.8 481.9L743.8 480.5L744.8 480.4L745.8 481.5L746.8 484.8L747.9 480.7L748.9 484.5L749.9 480.1L750.9 480.6L751.9 484.7L752.9 482.1L753.9 482.2L754.9 478.6L755.9 485.0L756.9 481.8L757.9 481.2L758.9 477.2L759.9 478.0L761.0 478.7L762.0 483.2L763.0 479.8L764.0 480.5L765.0 480.2L766.0 480.8L767.0 480.2L768.0 481.2L769.0 480.0L770.0 476.5L771.0 480.0L772.0 478.1L773.1 478.9L774.1 482.9L775.1 479.6L776.1 480.2L777.1 480.1L778.1 484.5L779.1 482.3L780.1 481.6L781.1 483.1L782.1 484.0L783.1 480.1L784.1 482.7L785.1 484.1L786.2 481.9L787.2 480.7L788.2 483.1L789.2 482.7L790.2 483.7L791.2 481.3L792.2 479.8L793.2 477.5L794.2 468.3L795.2 483.8L796.2 481.7L797.2 481.6L798.2 473.4L799.3 476.2L800.3 482.2L801.3 482.1L802.3 487.1L803.3 482.0L804.3 478.0L805.3 482.9L806.3 480.4L807.3 481.3L808.3 477.0L809.3 476.9L810.3 479.0L811.4 482.6L812.4 483.4L813.4 482.4L814.4 474.8L815.4 480.2L816.4 478.9L817.4 486.4L818.4 476.6L819.4 470.8L820.4 479.0L821.4 472.9L822.4 479.0L823.4 473.2L824.5 478.3L825.5 475.9L826.5 481.9L827.5 467.9L828.5 481.8L829.5 478.8L830.5 487.5L831.5 483.5L832.5 481.2L833.5 481.6L834.5 479.8L835.5 481.8L836.5 481.7L837.6 482.1L838.6 476.4L839.6 484.1L840.6 480.4L841.6 478.3L842.6 483.0L843.6 483.8L844.6 477.6L845.6 480.6L846.6 483.7L847.6 476.0L848.6 481.5L849.7 480.6L850.7 477.2L851.7 483.9L852.7 481.2L853.7 481.9L854.7 478.2L855.7 484.2L856.7 473.8L857.7 479.7L858.7 479.5L859.7 483.9L860.7 485.7L861.7 479.7L862.8 477.5L863.8 477.9L864.8 480.4"/>
<path stroke="#8c564b" stroke-width="2.78" d="M160.3 482.6L162.8 482.5L165.3 482.5L167.8 482.5L170.3 482.5L172.8 482.5L175.3 482.5L177.8 482.4L180.3 482.4L182.8 482.4L185.3 482.4L187.8 482.4L190.3 482.3L192.8 482.4L195.3 482.4L197.8 482.4L200.3 482.3L202.8 482.3L205.3 482.3L207.8 482.3L210.3 482.3L212.8 482.3L215.3 482.3L217.8 482.2L220.3 482.2L222.8 482.2L225.3 482.2L227.8 482.2L230.3 482.2L232.8 482.2L235.3 482.2L237.8 482.1L240.3 482.1L242.8 482.1L245.3 482.1L247.8 482.1L250.3 482.1L252.8 482.0L255.3 482.0L257.8 482.0L260.3 482.0L262.8 482.0L265.3 482.0L267.8 481.9L270.3 481.9L272.8 481.8L275.3 481.9L277.8 481.9L280.3 481.8L282.8 481.8L285.3 481.8L287.8 481.7L290.3 481.7L292.8 481.6L295.3 481.6L297.8 481.6L300.3 481.5L302.8 481.5L305.3 481.5L307.8 481.4L310.3 481.4L312.8 481.4L315.3 481.3L317.8 481.3L320.3 481.3L322.8 481.3L325.3 481.2L327.8 481.2L330.3 481.1L332.8 481.1L335.3 481.1L337.8 481.1L340.3 481.1L342.8 481.0L345.3 481.0L347.8 481.0L350.3 481.1L352.8 481.0L355.3 481.0L357.8 481.0L360.3 481.0L362.8 481.0L365.3 481.0L367.8 481.0L370.3 481.0L372.8 481.0L375.3 481.0L377.8 481.0L380.3 481.0L382.8 481.0L385.3 481.0L387.8 481.1L390.3 481.1L392.8 481.0L395.3 481.0L397.8 481.1L400.3 481.1L402.8 481.1L405.3 481.2L407.8 481.2L410.3 481.1L412.8 481.1L415.3 481.1L417.8 481.1L420.3 481.2L422.8 481.2L425.3 481.2L427.8 481.2L430.3 481.2L432.8 481.2L435.3 481.2L437.8 481.3L440.3 481.3L442.8 481.3L445.3 481.4L447.8 481.4L450.3 481.4L452.8 481.5L455.3 481.5L457.8 481.5L460.3 481.5L462.8 481.5L465.3 481.5L467.8 481.6L470.3 481.6L472.8 481.6L475.3 481.6L477.8 481.6L480.3 481.6L482.8 481.6L485.3 481.6L487.8 481.7L490.3 481.6L492.8 481.7L495.3 481.8L497.8 481.8L500.3 481.8L502.8 481.8L505.3 481.8L507.8 481.8L510.3 481.9L512.8 481.9L515.3 481.8L517.8 481.9L520.3 481.9L522.8 481.9L525.3 481.9L527.8 481.9L530.3 481.9L532.8 481.9L535.3 482.0L537.8 482.0L540.3 482.0L542.8 482.0L545.3 482.0L547.8 482.0L550.3 482.0L552.8 482.0L555.3 482.0L557.8 482.0L560.3 481.9L562.8 482.0L565.3 482.0L567.8 482.0L570.3 481.9L572.8 481.9L575.3 481.9L577.8 481.9L580.3 481.9L582.8 481.9L585.3 481.8L587.8 481.8L590.3 481.8L592.8 481.7L595.3 481.7L597.8 481.7L600.3 481.7L602.8 481.6L605.3 481.6L607.8 481.6L610.3 481.6L612.8 481.5L615.3 481.4L617.8 481.4L620.3 481.4L622.8 481.3L625.3 481.3L627.8 481.3L630.3 481.2L632.8 481.2L635.3 481.2L637.8 481.2L640.3 481.1L642.8 481.1L645.3 481.1L647.8 481.1L650.3 481.1L652.8 481.0L655.3 481.0L657.8 481.0L660.3 481.0L662.8 481.0L665.3 481.0L667.8 481.0L670.3 481.0L672.8 481.0L675.3 481.0L677.8 481.0L680.3 481.0L682.8 481.0L685.3 481.0L687.8 481.0L690.3 481.0L692.8 481.0L695.3 481.0L697.8 481.0L700.3 481.0L702.8 481.0L705.3 481.0L707.8 481.0L710.3 481.0L712.8 480.9L715.3 481.0L717.8 481.0L720.3 481.0L722.8 481.0L725.3 481.0L727.8 481.0L730.3 481.0L732.8 481.0L735.3 481.0L737.8 481.0L740.3 481.0L742.8 481.0L745.3 481.0L747.8 481.0L750.3 481.0L752.8 481.0L755.3 481.0L757.8 481.0L760.3 481.0L762.8 481.0L765.3 481.0L767.8 481.0L770.3 481.0L772.8 481.0L775.3 481.0L777.8 481.0L780.3 481.0L782.8 481.0L785.3 481.0L787.8 481.0L790.3 481.0L792.8 481.0L795.3 481.0L797.8 481.0L800.3 481.0L802.8 481.1L805.3 481.1L807.8 481.0L810.3 481.0L812.8 481.0L815.3 481.0L817.8 481.0L820.3 481.0L822.8 481.0L825.3 481.0L827.8 481.0L830.3 481.0L832.8 481.0L835.3 481.0L837.8 481.0L840.3 481.0L842.8 481.0L845.3 481.0L847.8 481.0L850.3 481.0L852.8 481.0L855.3 481.0L857.8 481.0L860.3 481.0L862.8 481.0L865.3 481.0"/>
<path stroke="#d62728" stroke-width="2.0" stroke-opacity="0.19" d="M160.2 498.6L161.2 470.5L162.2 461.4L163.3 460.8L164.3 464.4L165.3 481.9L166.3 454.0L167.3 455.6L168.3 465.4L169.3 478.5L170.3 458.5L171.3 464.3L172.3 457.1L173.3 491.9L174.3 474.3L175.3 465.6L176.4 481.7L177.4 492.9L178.4 497.8L179.4 453.3L180.4 473.2L181.4 465.6L182.4 492.0L183.4 488.1L184.4 479.0L185.4 481.4L186.4 474.8L187.4 455.4L188.4 468.7L189.5 476.9L190.5 478.6L191.5 474.2L192.5 504.2L193.5 506.1L194.5 474.9L195.5 462.6L196.5 477.2L197.5 477.8L198.5 471.8L199.5 472.4L200.5 504.3L201.6 479.7L202.6 507.0L203.6 481.3L204.6 479.2L205.6 468.6L206.6 507.9L207.6 470.7L208.6 461.4L209.6 463.6L210.6 505.7L211.6 507.8L212.6 474.9L213.6 481.4L214.7 496.2L215.7 488.3L216.7 491.2L217.7 474.3L218.7 505.1L219.7 459.9L220.7 441.6L221.7 495.8L222.7 474.8L223.7 464.2L224.7 476.5L225.7 464.1L226.8 436.4L227.8 470.9L228.8 475.0L229.8 482.2L230.8 477.7L231.8 506.2L232.8 495.4L233.8 504.7L234.8 478.3L235.8 481.8L236.8 481.3L237.8 422.3L238.8 486.9L239.9 479.4L240.9 490.6L241.9 486.5L242.9 498.4L243.9 503.2L244.9 460.8L245.9 469.6L246.9 506.0L247.9 462.5L248.9 494.0L249.9 466.4L250.9 504.6L251.9 456.9L253.0 507.8L254.0 473.9L255.0 475.8L256.0 486.8L257.0 476.9L258.0 476.1L259.0 480.3L260.0 461.6L261.0 500.9L262.0 482.8L263.0 467.0L264.0 461.1L265.1 493.8L266.1 451.9L267.1 503.9L268.1 472.3L269.1 473.6L270.1 477.0L271.1 501.0L272.1 474.5L273.1 476.0L274.1 463.5L275.1 449.2L276.1 499.5L277.1 498.4L278.2 469.3L279.2 481.2L280.2 502.4L281.2 460.6L282.2 482.8L283.2 471.4L284.2 469.9L285.2 475.2L286.2 476.7L287.2 458.6L288.2 475.5L289.2 465.7L290.3 466.9L291.3 507.4L292.3 462.8L293.3 457.6L294.3 496.1L295.3 477.7L296.3 471.9L297.3 471.5L298.3 483.2L299.3 477.6L300.3 454.7L301.3 482.4L302.3 507.1L303.4 456.7L304.4 473.9L305.4 477.8L306.4 481.0L307.4 482.5L308.4 455.2L309.4 504.3L310.4 483.1L311.4 480.9L312.4 507.2L313.4 478.3L314.4 482.5L315.4 478.6L316.5 447.6L317.5 465.6L318.5 468.5L319.5 456.7L320.5 503.1L321.5 477.3L322.5 462.3L323.5 492.5L324.5 476.0L325.5 475.1L326.5 507.9L327.5 430.3L328.6 466.1L329.6 479.0L330.6 494.9L331.6 493.9L332.6 472.1L333.6 466.9L334.6 469.6L335.6 466.1L336.6 477.8L337.6 502.5L338.6 476.8L339.6 464.1L340.6 467.0L341.7 471.4L342.7 476.1L343.7 478.9L344.7 439.5L345.7 490.2L346.7 494.1L347.7 490.3L348.7 478.9L349.7 475.2L350.7 482.3L351.7 444.9L352.7 478.9L353.8 480.8L354.8 506.6L355.8 473.0L356.8 494.0L357.8 481.2L358.8 497.9L359.8 507.1L360.8 472.4L361.8 489.5L362.8 462.7L363.8 473.3L364.8 469.0L365.8 475.2L366.9 461.1L367.9 493.6L368.9 496.7L369.9 440.7L370.9 478.3L371.9 482.6L372.9 482.4L373.9 434.6L374.9 488.0L375.9 500.4L376.9 473.2L377.9 468.2L378.9 479.8L380.0 487.9L381.0 482.3L382.0 468.6L383.0 476.3L384.0 474.6L385.0 493.3L386.0 507.0L387.0 482.7L388.0 477.7L389.0 455.6L390.0 477.8L391.0 478.1L392.1 460.6L393.1 475.2L394.1 481.9L395.1 506.6L396.1 477.9L397.1 452.8L398.1 479.1L399.1 477.3L400.1 418.8L401.1 456.2L402.1 452.7L403.1 458.1L404.1 453.4L405.2 468.3L406.2 457.6L407.2 490.7L408.2 495.1L409.2 492.3L410.2 447.5L411.2 473.6L412.2 453.2L413.2 505.9L414.2 470.8L415.2 476.0L416.2 480.2L417.2 475.8L418.3 489.9L419.3 449.1L420.3 473.9L421.3 494.3L422.3 430.5L423.3 456.0L424.3 444.6L425.3 474.7L426.3 482.6L427.3 483.2L428.3 479.5L429.3 446.2L430.4 477.6L431.4 475.2L432.4 489.1L433.4 473.2L434.4 497.4L435.4 492.6L436.4 431.9L437.4 507.5L438.4 481.1L439.4 494.8L440.4 507.8L441.4 476.0L442.4 501.6L443.5 471.2L444.5 479.8L445.5 425.0L446.5 479.7L447.5 471.6L448.5 484.4L449.5 439.6L450.5 503.3L451.5 465.8L452.5 459.6L453.5 475.1L454.5 482.8L455.6 499.2L456.6 465.9L457.6 473.7L458.6 465.0L459.6 470.0L460.6 506.0L461.6 501.8L462.6 499.1L463.6 493.3L464.6 421.6L465.6 461.9L466.6 482.4L467.6 469.1L468.7 475.3L469.7 505.7L470.7 500.9L471.7 482.4L472.7 501.5L473.7 484.8L474.7 421.2L475.7 468.5L476.7 419.9L477.7 474.8L478.7 466.8L479.7 472.9L480.7 483.5L481.8 501.9L482.8 501.1L483.8 475.3L484.8 423.3L485.8 507.6L486.8 494.5L487.8 420.6L488.8 452.3L489.8 483.8L490.8 480.3L491.8 481.7L492.8 476.3L493.9 474.2L494.9 493.6L495.9 494.7L496.9 454.2L497.9 472.7L498.9 480.2L499.9 462.9L500.9 475.2L501.9 475.6L502.9 469.0L503.9 505.9L504.9 478.5L505.9 506.9L507.0 475.4L508.0 459.7L509.0 505.5L510.0 464.5L511.0 460.1L512.0 432.2L513.0 457.6L514.0 454.8L515.0 474.7L516.0 463.5L517.0 505.1L518.0 507.4L519.1 488.9L520.1 505.7L521.1 437.7L522.1 484.2L523.1 504.9L524.1 476.0L525.1 507.0L526.1 506.9L527.1 479.1L528.1 421.7L529.1 483.7L530.1 480.6L531.1 483.2L532.2 483.9L533.2 470.5L534.2 503.5L535.2 507.7L536.2 454.0L537.2 463.9L538.2 477.9L539.2 475.0L540.2 482.6L541.2 473.4L542.2 483.1L543.2 440.5L544.2 497.9L545.3 466.3L546.3 504.2L547.3 478.1L548.3 493.2L549.3 493.2L550.3 454.9L551.3 475.3L552.3 473.1L553.3 476.8L554.3 494.9L555.3 422.4L556.3 456.1L557.4 463.3L558.4 489.3L559.4 497.8L560.4 480.7L561.4 480.6L562.4 457.1L563.4 481.1L564.4 461.7L565.4 459.6L566.4 480.3L567.4 482.7L568.4 457.2L569.4 478.6L570.5 483.6L571.5 493.8L572.5 447.4L573.5 427.5L574.5 477.5L575.5 469.9L576.5 481.9L577.5 497.3L578.5 505.8L579.5 435.7L580.5 506.8L581.5 478.7L582.6 506.8L583.6 428.3L584.6 470.0L585.6 472.1L586.6 507.5L587.6 455.7L588.6 438.8L589.6 487.7L590.6 417.1L591.6 467.4L592.6 442.2L593.6 429.9L594.6 473.1L595.7 477.7L596.7 480.5L597.7 492.0L598.7 482.4L599.7 497.2L600.7 433.4L601.7 507.0L602.7 473.5L603.7 499.3L604.7 481.3L605.7 462.2L606.7 463.8L607.7 444.2L608.8 464.1L609.8 436.4L610.8 489.4L611.8 457.5L612.8 442.6L613.8 480.1L614.8 436.0L615.8 492.6L616.8 480.6L617.8 482.5L618.8 492.1L619.8 473.5L620.9 475.1L621.9 504.3L622.9 470.2L623.9 455.8L624.9 462.8L625.9 501.4L626.9 477.7L627.9 494.5L628.9 501.2L629.9 488.6L630.9 506.8L631.9 475.3L632.9 475.3L634.0 461.7L635.0 477.5L636.0 504.4L637.0 470.7L638.0 477.2L639.0 436.0L640.0 447.2L641.0 455.1L642.0 472.4L643.0 504.7L644.0 466.8L645.0 468.6L646.1 503.6L647.1 464.7L648.1 476.5L649.1 487.5L650.1 469.2L651.1 474.0L652.1 470.6L653.1 457.0L654.1 435.8L655.1 483.4L656.1 477.4L657.1 436.5L658.1 475.5L659.2 459.5L660.2 466.3L661.2 507.8L662.2 438.6L663.2 455.8L664.2 507.1L665.2 479.9L666.2 480.9L667.2 477.1L668.2 504.3L669.2 465.3L670.2 480.9L671.2 462.7L672.3 437.9L673.3 480.6L674.3 478.4L675.3 451.0L676.3 467.8L677.3 473.4L678.3 488.0L679.3 467.2L680.3 488.7L681.3 454.2L682.3 499.2L683.3 483.1L684.4 450.8L685.4 479.1L686.4 462.9L687.4 507.6L688.4 500.5L689.4 503.9L690.4 470.1L691.4 471.3L692.4 456.7L693.4 500.8L694.4 476.2L695.4 471.8L696.4 478.0L697.5 454.1L698.5 477.3L699.5 480.9L700.5 478.8L701.5 479.5L702.5 441.6L703.5 461.8L704.5 464.6L705.5 490.8L706.5 506.5L707.5 466.1L708.5 496.4L709.6 504.7L710.6 476.0L711.6 489.4L712.6 493.0L713.6 470.0L714.6 503.2L715.6 478.4L716.6 482.8L717.6 476.7L718.6 491.5L719.6 480.5L720.6 479.6L721.6 473.8L722.7 475.2L723.7 472.5L724.7 502.9L725.7 474.9L726.7 452.5L727.7 507.9L728.7 489.0L729.7 463.4L730.7 419.4L731.7 472.3L732.7 481.1L733.7 460.8L734.7 479.0L735.8 476.7L736.8 433.8L737.8 466.4L738.8 453.5L739.8 461.5L740.8 442.0L741.8 458.4L742.8 420.9L743.8 459.1L744.8 472.8L745.8 463.5L746.8 464.8L747.9 502.6L748.9 481.2L749.9 470.5L750.9 495.2L751.9 452.1L752.9 479.9L753.9 464.0L754.9 470.5L755.9 491.4L756.9 496.1L757.9 506.0L758.9 506.5L759.9 456.7L761.0 466.7L762.0 434.9L763.0 473.7L764.0 466.8L765.0 476.9L766.0 489.2L767.0 460.1L768.0 473.7L769.0 498.2L770.0 434.6L771.0 476.2L772.0 479.3L773.1 474.3L774.1 506.7L775.1 418.0L776.1 479.2L777.1 467.5L778.1 451.9L779.1 495.5L780.1 493.5L781.1 490.3L782.1 429.7L783.1 466.0L784.1 475.1L785.1 458.3L786.2 474.0L787.2 454.8L788.2 450.0L789.2 447.8L790.2 473.9L791.2 479.5L792.2 498.2L793.2 475.7L794.2 463.3L795.2 475.1L796.2 482.1L797.2 478.7L798.2 462.2L799.3 462.1L800.3 491.7L801.3 461.2L802.3 449.7L803.3 480.0L804.3 507.6L805.3 466.3L806.3 480.1L807.3 460.2L808.3 502.0L809.3 471.1L810.3 500.4L811.4 462.0L812.4 486.3L813.4 507.8L814.4 439.3L815.4 479.6L816.4 471.5L817.4 476.7L818.4 508.0L819.4 477.4L820.4 442.1L821.4 477.2L822.4 486.1L823.4 488.3L824.5 478.6L825.5 494.7L826.5 461.1L827.5 475.1L828.5 490.2L829.5 495.0L830.5 469.3L831.5 478.8L832.5 475.0L833.5 461.2L834.5 472.9L835.5 480.8L836.5 478.9L837.6 479.5L838.6 425.1L839.6 475.7L840.6 501.0L841.6 498.8L842.6 473.5L843.6 507.0L844.6 477.7L845.6 490.0L846.6 459.3L847.6 459.2L848.6 444.9L849.7 441.0L850.7 507.9L851.7 503.8L852.7 475.6L853.7 464.8L854.7 469.7L855.7 461.1L856.7 450.1L857.7 500.0L858.7 431.8L859.7 499.7L860.7 461.7L861.7 470.4L862.8 466.5L863.8 507.5L864.8 417.0"/>
<path stroke="#d62728" stroke-width="2.78" d="M160.3 482.2L162.8 482.2L165.3 482.2L167.8 482.2L170.3 482.2L172.8 482.2L175.3 482.2L177.8 482.2L180.3 482.2L182.8 482.3L185.3 482.3L187.8 482.3L190.3 482.3L192.8 482.3L195.3 482.4L197.8 482.3L200.3 482.3L202.8 482.4L205.3 482.4L207.8 482.4L210.3 482.4L212.8 482.5L215.3 482.5L217.8 482.5L220.3 482.5L222.8 482.5L225.3 482.6L227.8 482.6L230.3 482.7L232.8 482.7L235.3 482.7L237.8 482.7L240.3 482.7L242.8 482.8L245.3 482.8L247.8 482.9L250.3 482.9L252.8 483.0L255.3 483.0L257.8 483.0L260.3 483.0L262.8 483.0L265.3 483.0L267.8 483.0L270.3 483.0L272.8 483.1L275.3 483.1L277.8 483.1L280.3 483.1L282.8 483.1L285.3 483.1L287.8 483.1L290.3 483.1L292.8 483.2L295.3 483.2L297.8 483.2L300.3 483.2L302.8 483.2L305.3 483.2L307.8 483.3L310.3 483.3L312.8 483.3L315.3 483.3L317.8 483.3L320.3 483.3L322.8 483.3L325.3 483.3L327.8 483.3L330.3 483.3L332.8 483.3L335.3 483.3L337.8 483.4L340.3 483.4L342.8 483.4L345.3 483.3L347.8 483.4L350.3 483.4L352.8 483.5L355.3 483.5L357.8 483.5L360.3 483.5L362.8 483.5L365.3 483.6L367.8 483.6L370.3 483.6L372.8 483.7L375.3 483.7L377.8 483.7L380.3 483.7L382.8 483.7L385.3 483.7L387.8 483.8L390.3 483.9L392.8 483.9L395.3 484.0L397.8 484.0L400.3 484.0L402.8 484.1L405.3 484.1L407.8 484.2L410.3 484.2L412.8 484.2L415.3 484.3L417.8 484.4L420.3 484.4L422.8 484.4L425.3 484.5L427.8 484.7L430.3 484.7L432.8 484.7L435.3 484.8L437.8 484.9L440.3 484.9L442.8 485.0L445.3 485.1L447.8 485.1L450.3 485.1L452.8 485.2L455.3 485.2L457.8 485.3L460.3 485.2L462.8 485.2L465.3 485.2L467.8 485.2L470.3 485.1L472.8 485.1L475.3 485.1L477.8 485.1L480.3 485.1L482.8 485.0L485.3 485.0L487.8 485.0L490.3 485.0L492.8 484.9L495.3 484.9L497.8 484.8L500.3 484.8L502.8 484.8L505.3 484.8L507.8 484.7L510.3 484.7L512.8 484.6L515.3 484.6L517.8 484.5L520.3 484.5L522.8 484.4L525.3 484.4L527.8 484.4L530.3 484.3L532.8 484.2L535.3 484.2L537.8 484.1L540.3 484.0L542.8 484.0L545.3 483.9L547.8 483.9L550.3 483.8L552.8 483.8L555.3 483.7L557.8 483.7L560.3 483.6L562.8 483.6L565.3 483.6L567.8 483.6L570.3 483.6L572.8 483.6L575.3 483.6L577.8 483.6L580.3 483.5L582.8 483.5L585.3 483.5L587.8 483.5L590.3 483.5L592.8 483.5L595.3 483.4L597.8 483.4L600.3 483.4L602.8 483.4L605.3 483.4L607.8 483.4L610.3 483.4L612.8 483.4L615.3 483.4L617.8 483.4L620.3 483.5L622.8 483.5L625.3 483.4L627.8 483.5L630.3 483.5L632.8 483.5L635.3 483.5L637.8 483.5L640.3 483.5L642.8 483.6L645.3 483.5L647.8 483.5L650.3 483.5L652.8 483.4L655.3 483.4L657.8 483.5L660.3 483.5L662.8 483.5L665.3 483.5L667.8 483.5L670.3 483.5L672.8 483.4L675.3 483.5L677.8 483.5L680.3 483.5L682.8 483.5L685.3 483.5L687.8 483.5L690.3 483.5L692.8 483.5L695.3 483.4L697.8 483.4L700.3 483.4L702.8 483.4L705.3 483.4L707.8 483.4L710.3 483.3L712.8 483.3L715.3 483.3L717.8 483.3L720.3 483.3L722.8 483.3L725.3 483.3L727.8 483.3L730.3 483.2L732.8 483.2L735.3 483.1L737.8 483.1L740.3 483.2L742.8 483.1L745.3 483.1L747.8 483.1L750.3 483.1L752.8 483.0L755.3 483.1L757.8 483.1L760.3 483.1L762.8 483.0L765.3 483.0L767.8 483.0L770.3 482.9L772.8 482.8L775.3 482.7L777.8 482.7L780.3 482.7L782.8 482.7L785.3 482.6L787.8 482.6L790.3 482.5L792.8 482.4L795.3 482.4L797.8 482.3L800.3 482.3L802.8 482.2L805.3 482.2L807.8 482.1L810.3 482.1L812.8 482.0L815.3 482.0L817.8 481.9L820.3 481.9L822.8 481.8L825.3 481.8L827.8 481.7L830.3 481.7L832.8 481.6L835.3 481.6L837.8 481.5L840.3 481.5L842.8 481.4L845.3 481.3L847.8 481.2L850.3 481.1L852.8 481.1L855.3 481.1L857.8 481.0L860.3 481.0L862.8 480.9L865.3 480.9"/>
<path stroke="#9467bd" stroke-width="2.0" stroke-opacity="0.21" d="M160.2 500.6L161.2 482.2L162.2 414.1L163.3 447.4L164.3 460.7L165.3 425.9L166.3 444.5L167.3 432.8L168.3 436.7L169.3 419.0L170.3 443.5L171.3 373.8L172.3 454.2L173.3 456.7L174.3 401.4L175.3 457.0L176.4 448.5L177.4 476.5L178.4 440.8L179.4 449.5L180.4 412.7L181.4 428.9L182.4 440.3L183.4 422.8L184.4 414.4L185.4 414.7L186.4 385.7L187.4 427.6L188.4 375.7L189.5 438.3L190.5 381.2L191.5 472.6L192.5 399.9L193.5 465.3L194.5 419.7L195.5 434.6L196.5 412.2L197.5 466.4L198.5 464.7L199.5 402.9L200.5 466.8L201.6 389.0L202.6 401.8L203.6 425.2L204.6 412.8L205.6 502.7L206.6 460.1L207.6 399.7L208.6 464.3L209.6 383.9L210.6 422.6L211.6 463.0L212.6 455.2L213.6 437.5L214.7 416.2L215.7 421.1L216.7 387.4L217.7 445.2L218.7 424.4L219.7 375.5L220.7 432.5L221.7 470.2L222.7 479.1L223.7 447.0L224.7 403.9L225.7 387.4L226.8 454.4L227.8 441.8L228.8 390.6L229.8 447.1L230.8 410.7L231.8 375.5L232.8 464.9L233.8 470.6L234.8 450.2L235.8 435.8L236.8 422.5L237.8 380.6L238.8 423.0L239.9 446.1L240.9 473.3L241.9 451.3L242.9 437.9L243.9 435.0L244.9 375.9L245.9 415.0L246.9 384.9L247.9 423.4L248.9 425.6L249.9 411.0L250.9 431.1L251.9 439.2L253.0 379.8L254.0 431.7L255.0 478.4L256.0 433.2L257.0 405.0L258.0 440.3L259.0 453.2L260.0 432.2L261.0 454.7L262.0 431.6L263.0 404.3L264.0 408.0L265.1 444.1L266.1 436.0L267.1 426.7L268.1 394.3L269.1 475.3L270.1 443.5L271.1 430.5L272.1 420.9L273.1 380.5L274.1 506.1L275.1 380.6L276.1 441.6L277.1 427.4L278.2 437.6L279.2 465.4L280.2 432.0L281.2 416.3L282.2 460.0L283.2 434.8L284.2 435.9L285.2 461.5L286.2 423.4L287.2 436.0L288.2 450.3L289.2 419.4L290.3 421.8L291.3 476.6L292.3 430.6L293.3 465.2L294.3 449.2L295.3 399.3L296.3 502.9L297.3 431.1L298.3 416.6L299.3 426.4L300.3 443.5L301.3 419.1L302.3 450.4L303.4 412.0L304.4 441.8L305.4 455.8L306.4 420.6L307.4 448.5L308.4 424.8L309.4 387.0L310.4 424.7L311.4 397.1L312.4 398.9L313.4 385.7L314.4 456.8L315.4 383.1L316.5 452.0L317.5 424.0L318.5 440.1L319.5 468.4L320.5 450.3L321.5 411.3L322.5 377.6L323.5 465.2L324.5 427.0L325.5 429.3L326.5 408.7L327.5 386.7L328.6 429.3L329.6 379.3L330.6 464.7L331.6 435.8L332.6 398.9L333.6 435.5L334.6 412.8L335.6 419.3L336.6 402.7L337.6 459.7L338.6 447.6L339.6 454.9L340.6 468.7L341.7 423.3L342.7 381.1L343.7 385.1L344.7 446.8L345.7 443.4L346.7 435.9L347.7 428.0L348.7 406.3L349.7 429.7L350.7 383.2L351.7 455.2L352.7 425.5L353.8 405.0L354.8 440.4L355.8 465.6L356.8 449.9L357.8 428.3L358.8 459.5L359.8 464.5L360.8 441.7L361.8 434.4L362.8 428.3L363.8 454.0L364.8 390.3L365.8 394.1L366.9 401.5L367.9 423.8L368.9 451.6L369.9 408.5L370.9 424.8L371.9 382.1L372.9 478.7L373.9 418.8L374.9 380.1L375.9 407.4L376.9 462.3L377.9 403.2L378.9 413.2L380.0 440.5L381.0 432.6L382.0 463.6L383.0 437.7L384.0 454.1L385.0 436.7L386.0 442.5L387.0 443.1L388.0 471.3L389.0 423.3L390.0 443.0L391.0 477.0L392.1 400.4L393.1 399.1L394.1 434.9L395.1 460.3L396.1 477.2L397.1 392.1L398.1 468.6L399.1 396.5L400.1 427.9L401.1 429.5L402.1 406.3L403.1 375.7L404.1 427.4L405.2 433.5L406.2 441.7L407.2 464.2L408.2 396.3L409.2 446.4L410.2 379.5L411.2 401.6L412.2 405.0L413.2 439.2L414.2 411.5L415.2 393.1L416.2 437.0L417.2 389.4L418.3 430.4L419.3 396.8L420.3 388.9L421.3 440.1L422.3 431.3L423.3 408.7L424.3 433.8L425.3 410.4L426.3 393.6L427.3 421.3L428.3 442.5L429.3 441.1L430.4 408.4L431.4 375.9L432.4 465.1L433.4 455.9L434.4 430.5L435.4 464.1L436.4 419.6L437.4 427.2L438.4 465.5L439.4 425.8L440.4 495.7L441.4 456.4L442.4 421.3L443.5 439.6L444.5 392.1L445.5 429.9L446.5 414.4L447.5 418.6L448.5 473.1L449.5 422.2L450.5 404.3L451.5 447.4L452.5 453.2L453.5 406.7L454.5 462.3L455.6 433.8L456.6 471.1L457.6 430.2L458.6 449.6L459.6 425.3L460.6 466.6L461.6 423.6L462.6 442.4L463.6 460.7L464.6 442.3L465.6 432.6L466.6 375.7L467.6 457.9L468.7 448.4L469.7 455.3L470.7 413.8L471.7 390.7L472.7 408.0L473.7 459.7L474.7 433.9L475.7 444.1L476.7 461.5L477.7 479.2L478.7 407.1L479.7 414.4L480.7 378.3L481.8 450.3L482.8 393.8L483.8 459.1L484.8 401.4L485.8 384.8L486.8 460.9L487.8 375.4L488.8 435.1L489.8 400.7L490.8 427.2L491.8 416.3L492.8 419.3L493.9 456.1L494.9 449.0L495.9 441.6L496.9 408.1L497.9 475.1L498.9 419.5L499.9 410.7L500.9 447.3L501.9 448.3L502.9 445.6L503.9 430.8L504.9 424.4L505.9 417.8L507.0 405.9L508.0 428.8L509.0 439.2L510.0 429.1L511.0 406.8L512.0 466.0L513.0 424.0L514.0 486.9L515.0 431.1L516.0 423.8L517.0 402.0L518.0 408.7L519.1 441.4L520.1 431.6L521.1 441.8L522.1 408.1L523.1 477.8L524.1 439.2L525.1 437.8L526.1 423.4L527.1 423.7L528.1 451.1L529.1 451.4L530.1 435.4L531.1 415.7L532.2 458.6L533.2 420.7L534.2 450.2L535.2 413.8L536.2 375.2L537.2 430.9L538.2 450.3L539.2 458.8L540.2 473.8L541.2 413.7L542.2 458.7L543.2 413.2L544.2 436.7L545.3 400.5L546.3 475.7L547.3 462.2L548.3 461.7L549.3 381.0L550.3 499.4L551.3 378.2L552.3 462.7L553.3 424.2L554.3 408.0L555.3 461.4L556.3 440.7L557.4 437.9L558.4 392.5L559.4 445.1L560.4 408.7L561.4 434.7L562.4 438.1L563.4 421.0L564.4 439.2L565.4 418.1L566.4 418.9L567.4 411.7L568.4 437.6L569.4 485.8L570.5 375.8L571.5 375.8L572.5 405.9L573.5 417.5L574.5 473.8L575.5 423.1L576.5 469.7L577.5 386.7L578.5 457.6L579.5 469.5L580.5 427.7L581.5 417.6L582.6 455.3L583.6 438.5L584.6 416.4L585.6 425.2L586.6 417.8L587.6 423.6L588.6 397.8L589.6 431.8L590.6 426.7L591.6 433.9L592.6 431.5L593.6 438.8L594.6 437.8L595.7 453.5L596.7 472.5L597.7 486.5L598.7 392.5L599.7 410.4L600.7 434.9L601.7 440.3L602.7 414.6L603.7 418.4L604.7 430.3L605.7 413.7L606.7 457.6L607.7 466.0L608.8 437.7L609.8 397.7L610.8 422.9L611.8 397.4L612.8 386.1L613.8 473.4L614.8 423.3L615.8 431.4L616.8 393.5L617.8 429.5L618.8 386.1L619.8 385.8L620.9 474.7L621.9 421.7L622.9 407.8L623.9 433.3L624.9 389.1L625.9 455.0L626.9 401.0L627.9 471.5L628.9 460.6L629.9 405.7L630.9 435.2L631.9 428.0L632.9 427.7L634.0 414.9L635.0 462.7L636.0 474.8L637.0 459.2L638.0 387.5L639.0 430.0L640.0 450.4L641.0 477.3L642.0 448.1L643.0 427.8L644.0 458.2L645.0 466.3L646.1 430.8L647.1 477.8L648.1 431.4L649.1 391.3L650.1 440.5L651.1 428.4L652.1 401.0L653.1 416.6L654.1 438.6L655.1 456.7L656.1 435.3L657.1 380.0L658.1 444.7L659.2 437.4L660.2 431.9L661.2 426.5L662.2 453.3L663.2 443.6L664.2 437.1L665.2 422.5L666.2 438.6L667.2 421.4L668.2 377.0L669.2 397.0L670.2 428.9L671.2 445.4L672.3 415.5L673.3 396.9L674.3 392.3L675.3 425.6L676.3 462.6L677.3 378.4L678.3 438.0L679.3 450.7L680.3 415.7L681.3 443.0L682.3 439.2L683.3 473.3L684.4 442.7L685.4 401.0L686.4 418.2L687.4 413.2L688.4 408.6L689.4 377.4L690.4 392.4L691.4 481.4L692.4 463.0L693.4 437.4L694.4 382.4L695.4 439.8L696.4 415.4L697.5 385.2L698.5 424.5L699.5 440.1L700.5 412.2L701.5 426.9L702.5 400.4L703.5 406.2L704.5 419.9L705.5 463.5L706.5 454.7L707.5 443.7L708.5 443.4L709.6 392.6L710.6 399.1L711.6 415.6L712.6 393.8L713.6 405.0L714.6 388.0L715.6 469.5L716.6 457.9L717.6 472.9L718.6 385.3L719.6 406.6L720.6 417.6L721.6 477.0L722.7 445.4L723.7 462.9L724.7 464.9L725.7 417.4L726.7 452.7L727.7 497.1L728.7 386.0L729.7 428.6L730.7 448.5L731.7 398.6L732.7 392.0L733.7 422.6L734.7 438.4L735.8 399.0L736.8 406.7L737.8 461.8L738.8 436.8L739.8 384.8L740.8 409.5L741.8 442.6L742.8 454.3L743.8 449.4L744.8 392.4L745.8 455.7L746.8 458.8L747.9 434.1L748.9 430.4L749.9 452.1L750.9 429.8L751.9 466.5L752.9 441.9L753.9 461.4L754.9 449.1L755.9 436.7L756.9 448.1L757.9 445.4L758.9 474.2L759.9 449.0L761.0 439.2L762.0 448.6L763.0 458.9L764.0 441.6L765.0 417.1L766.0 416.3L767.0 412.4L768.0 411.3L769.0 425.0L770.0 450.1L771.0 408.6L772.0 442.6L773.1 432.0L774.1 459.4L775.1 429.0L776.1 415.3L777.1 457.7L778.1 411.5L779.1 416.2L780.1 429.9L781.1 382.3L782.1 482.9L783.1 377.4L784.1 410.2L785.1 431.3L786.2 391.6L787.2 425.5L788.2 426.9L789.2 426.7L790.2 383.1L791.2 447.7L792.2 442.6L793.2 417.2L794.2 406.7L795.2 451.9L796.2 438.9L797.2 486.9L798.2 416.8L799.3 435.6L800.3 394.8L801.3 445.6L802.3 411.8L803.3 390.7L804.3 427.3L805.3 425.7L806.3 415.1L807.3 423.3L808.3 441.6L809.3 425.9L810.3 459.8L811.4 442.9L812.4 446.5L813.4 425.2L814.4 458.7L815.4 400.8L816.4 443.1L817.4 454.5L818.4 415.6L819.4 441.8L820.4 446.4L821.4 463.6L822.4 451.6L823.4 388.9L824.5 449.8L825.5 406.8L826.5 377.9L827.5 452.4L828.5 481.3L829.5 388.5L830.5 441.4L831.5 427.6L832.5 394.7L833.5 398.7L834.5 394.0L835.5 415.9L836.5 414.6L837.6 422.5L838.6 425.3L839.6 455.9L840.6 470.2L841.6 381.1L842.6 471.7L843.6 427.9L844.6 496.9L845.6 440.5L846.6 406.7L847.6 375.1L848.6 401.6L849.7 407.0L850.7 422.8L851.7 409.6L852.7 385.2L853.7 436.3L854.7 460.6L855.7 419.8L856.7 432.4L857.7 440.5L858.7 428.5L859.7 476.4L860.7 429.2L861.7 409.3L862.8 438.3L863.8 414.6L864.8 384.3"/>
<path stroke="#9467bd" stroke-width="2.78" d="M160.3 444.0L162.8 444.0L165.3 443.9L167.8 443.8L170.3 443.8L172.8 443.7L175.3 443.7L177.8 443.6L180.3 443.6L182.8 443.5L185.3 443.5L187.8 443.5L190.3 443.4L192.8 443.3L195.3 443.2L197.8 443.1L200.3 443.1L202.8 443.1L205.3 443.0L207.8 442.9L210.3 442.9L212.8 442.9L215.3 442.8L217.8 442.8L220.3 442.7L222.8 442.6L225.3 442.6L227.8 442.5L230.3 442.5L232.8 442.4L235.3 442.3L237.8 442.3L240.3 442.2L242.8 442.1L245.3 442.1L247.8 442.0L250.3 441.9L252.8 441.9L255.3 441.9L257.8 441.8L260.3 441.7L262.8 441.6L265.3 441.5L267.8 441.4L270.3 441.3L272.8 441.3L275.3 441.3L277.8 441.2L280.3 441.1L282.8 441.0L285.3 441.0L287.8 441.0L290.3 441.0L292.8 441.0L295.3 441.0L297.8 441.0L300.3 441.1L302.8 441.1L305.3 441.1L307.8 441.1L310.3 441.2L312.8 441.2L315.3 441.2L317.8 441.2L320.3 441.2L322.8 441.3L325.3 441.3L327.8 441.3L330.3 441.3L332.8 441.4L335.3 441.4L337.8 441.5L340.3 441.5L342.8 441.5L345.3 441.5L347.8 441.5L350.3 441.5L352.8 441.5L355.3 441.5L357.8 441.5L360.3 441.6L362.8 441.5L365.3 441.5L367.8 441.5L370.3 441.6L372.8 441.6L375.3 441.6L377.8 441.5L380.3 441.5L382.8 441.6L385.3 441.6L387.8 441.6L390.3 441.5L392.8 441.5L395.3 441.6L397.8 441.6L400.3 441.6L402.8 441.6L405.3 441.6L407.8 441.6L410.3 441.7L412.8 441.7L415.3 441.7L417.8 441.8L420.3 441.8L422.8 441.9L425.3 441.9L427.8 442.0L430.3 442.0L432.8 442.1L435.3 442.1L437.8 442.1L440.3 442.2L442.8 442.2L445.3 442.2L447.8 442.2L450.3 442.2L452.8 442.2L455.3 442.2L457.8 442.2L460.3 442.2L462.8 442.2L465.3 442.2L467.8 442.1L470.3 442.1L472.8 442.1L475.3 442.2L477.8 442.1L480.3 442.1L482.8 442.1L485.3 442.1L487.8 442.1L490.3 442.1L492.8 442.1L495.3 442.1L497.8 442.0L500.3 442.0L502.8 441.9L505.3 441.9L507.8 441.9L510.3 441.9L512.8 441.9L515.3 441.9L517.8 441.9L520.3 441.9L522.8 441.8L525.3 441.7L527.8 441.7L530.3 441.7L532.8 441.7L535.3 441.6L537.8 441.4L540.3 441.3L542.8 441.2L545.3 441.1L547.8 441.0L550.3 440.9L552.8 440.8L555.3 440.7L557.8 440.6L560.3 440.5L562.8 440.3L565.3 440.2L567.8 440.1L570.3 439.9L572.8 439.8L575.3 439.6L577.8 439.5L580.3 439.5L582.8 439.4L585.3 439.3L587.8 439.1L590.3 439.0L592.8 439.0L595.3 438.9L597.8 438.7L600.3 438.6L602.8 438.5L605.3 438.5L607.8 438.5L610.3 438.4L612.8 438.4L615.3 438.4L617.8 438.4L620.3 438.5L622.8 438.6L625.3 438.7L627.8 438.8L630.3 438.8L632.8 439.0L635.3 439.1L637.8 439.2L640.3 439.3L642.8 439.4L645.3 439.6L647.8 439.7L650.3 439.9L652.8 440.1L655.3 440.3L657.8 440.5L660.3 440.7L662.8 440.8L665.3 440.9L667.8 441.1L670.3 441.2L672.8 441.4L675.3 441.5L677.8 441.6L680.3 441.7L682.8 441.8L685.3 441.9L687.8 442.0L690.3 442.1L692.8 442.2L695.3 442.2L697.8 442.1L700.3 442.2L702.8 442.2L705.3 442.2L707.8 442.2L710.3 442.1L712.8 442.1L715.3 442.0L717.8 441.9L720.3 441.9L722.8 441.9L725.3 441.9L727.8 441.7L730.3 441.6L732.8 441.5L735.3 441.3L737.8 441.0L740.3 440.8L742.8 440.5L745.3 440.3L747.8 440.1L750.3 439.9L752.8 439.6L755.3 439.4L757.8 439.2L760.3 439.1L762.8 439.0L765.3 438.8L767.8 438.7L770.3 438.5L772.8 438.3L775.3 438.2L777.8 438.1L780.3 438.0L782.8 437.9L785.3 437.8L787.8 437.7L790.3 437.7L792.8 437.7L795.3 437.6L797.8 437.6L800.3 437.5L802.8 437.6L805.3 437.6L807.8 437.5L810.3 437.5L812.8 437.5L815.3 437.5L817.8 437.4L820.3 437.4L822.8 437.4L825.3 437.3L827.8 437.3L830.3 437.3L832.8 437.3L835.3 437.3L837.8 437.3L840.3 437.2L842.8 437.3L845.3 437.3L847.8 437.3L850.3 437.2L852.8 437.2L855.3 437.2L857.8 437.3L860.3 437.2L862.8 437.2L865.2 437.2"/>
<path stroke="#2ca02c" stroke-width="2.0" stroke-opacity="0.21" d="M160.2 478.3L161.2 466.4L162.2 491.6L163.3 486.9L164.3 497.4L165.3 487.9L166.3 459.8L167.3 497.0L168.3 500.7L169.3 489.5L170.3 481.1L171.3 471.9L172.3 475.1L173.3 503.6L174.3 496.7L175.3 492.9L176.4 421.9L177.4 500.9L178.4 481.1L179.4 475.1L180.4 487.6L181.4 493.5L182.4 485.7L183.4 483.8L184.4 476.8L185.4 486.3L186.4 481.9L187.4 481.0L188.4 492.7L189.5 437.4L190.5 468.4L191.5 495.8L192.5 467.9L193.5 487.5L194.5 488.7L195.5 472.6L196.5 478.8L197.5 465.5L198.5 490.5L199.5 474.2L200.5 482.6L201.6 485.9L202.6 477.7L203.6 464.3L204.6 492.9L205.6 486.3L206.6 494.8L207.6 486.4L208.6 488.5L209.6 481.9L210.6 497.1L211.6 489.8L212.6 449.3L213.6 507.2L214.7 425.0L215.7 488.0L216.7 483.8L217.7 485.3L218.7 497.2L219.7 486.5L220.7 472.9L221.7 463.6L222.7 455.7L223.7 491.5L224.7 471.8L225.7 467.2L226.8 486.0L227.8 479.9L228.8 476.1L229.8 491.6L230.8 504.4L231.8 477.8L232.8 474.6L233.8 499.9L234.8 470.3L235.8 482.1L236.8 478.1L237.8 487.2L238.8 485.8L239.9 478.4L240.9 504.2L241.9 464.7L242.9 498.3L243.9 465.6L244.9 470.7L245.9 471.9L246.9 487.6L247.9 476.1L248.9 494.7L249.9 499.1L250.9 486.1L251.9 494.7L253.0 476.6L254.0 487.6L255.0 486.6L256.0 486.5L257.0 482.0L258.0 478.6L259.0 421.7L260.0 478.9L261.0 419.2L262.0 479.8L263.0 464.7L264.0 463.6L265.1 490.5L266.1 488.1L267.1 475.2L268.1 479.9L269.1 458.7L270.1 482.0L271.1 483.6L272.1 463.9L273.1 468.5L274.1 472.2L275.1 458.7L276.1 478.4L277.1 505.6L278.2 489.2L279.2 486.3L280.2 471.6L281.2 478.6L282.2 469.7L283.2 455.9L284.2 495.2L285.2 497.4L286.2 483.9L287.2 476.1L288.2 463.6L289.2 492.8L290.3 475.4L291.3 448.7L292.3 491.7L293.3 461.4L294.3 470.6L295.3 478.6L296.3 454.9L297.3 469.0L298.3 499.9L299.3 471.0L300.3 471.6L301.3 445.9L302.3 497.7L303.4 454.0L304.4 444.1L305.4 492.7L306.4 481.4L307.4 494.1L308.4 441.6L309.4 472.1L310.4 471.0L311.4 455.2L312.4 420.0L313.4 479.9L314.4 459.8L315.4 419.4L316.5 422.6L317.5 495.3L318.5 462.6L319.5 432.1L320.5 440.1L321.5 374.1L322.5 454.4L323.5 428.8L324.5 468.4L325.5 484.7L326.5 454.3L327.5 426.6L328.6 429.6L329.6 426.6L330.6 476.9L331.6 478.4L332.6 447.4L333.6 375.6L334.6 464.1L335.6 471.4L336.6 432.7L337.6 437.0L338.6 483.3L339.6 495.0L340.6 449.3L341.7 488.0L342.7 458.5L343.7 489.9L344.7 474.1L345.7 407.3L346.7 488.1L347.7 420.8L348.7 419.5L349.7 489.8L350.7 459.7L351.7 428.8L352.7 480.6L353.8 434.4L354.8 442.7L355.8 400.3L356.8 407.3L357.8 416.5L358.8 462.5L359.8 465.3L360.8 430.3L361.8 379.8L362.8 487.2L363.8 412.0L364.8 421.9L365.8 451.8L366.9 434.1L367.9 475.7L368.9 402.3L369.9 440.7L370.9 360.8L371.9 377.0L372.9 424.7L373.9 465.8L374.9 437.9L375.9 483.5L376.9 424.6L377.9 485.8L378.9 448.5L380.0 476.2L381.0 447.9L382.0 408.4L383.0 440.3L384.0 495.4L385.0 313.2L386.0 477.7L387.0 383.1L388.0 484.7L389.0 478.3L390.0 453.7L391.0 438.7L392.1 447.0L393.1 410.6L394.1 421.9L395.1 430.3L396.1 405.5L397.1 349.0L398.1 449.5L399.1 480.4L400.1 479.5L401.1 232.8L402.1 386.6L403.1 505.3L404.1 346.7L405.2 404.5L406.2 381.1L407.2 366.2L408.2 453.3L409.2 366.3L410.2 442.3L411.2 404.3L412.2 418.6L413.2 444.2L414.2 305.0L415.2 425.5L416.2 369.5L417.2 392.7L418.3 485.2L419.3 398.1L420.3 407.3L421.3 416.7L422.3 490.4L423.3 377.9L424.3 344.8L425.3 433.6L426.3 391.2L427.3 467.5L428.3 472.2L429.3 388.9L430.4 444.9L431.4 396.0L432.4 377.8L433.4 428.3L434.4 333.8L435.4 361.0L436.4 397.0L437.4 447.0L438.4 190.6L439.4 415.3L440.4 392.7L441.4 426.5L442.4 451.9L443.5 313.5L444.5 380.4L445.5 347.0L446.5 377.8L447.5 482.8L448.5 423.5L449.5 386.9L450.5 310.8L451.5 312.0L452.5 358.5L453.5 363.5L454.5 425.8L455.6 497.8L456.6 370.2L457.6 463.6L458.6 476.8L459.6 410.3L460.6 390.3L461.6 437.3L462.6 248.7L463.6 412.8L464.6 477.7L465.6 483.0L466.6 458.7L467.6 356.0L468.7 429.9L469.7 373.8L470.7 482.1L471.7 490.8L472.7 342.2L473.7 450.6L474.7 353.1L475.7 459.3L476.7 495.4L477.7 479.2L478.7 442.4L479.7 415.8L480.7 484.3L481.8 377.2L482.8 441.4L483.8 447.3L484.8 385.2L485.8 370.0L486.8 447.1L487.8 446.0L488.8 342.9L489.8 226.7L490.8 495.6L491.8 427.5L492.8 424.5L493.9 492.7L494.9 372.2L495.9 484.3L496.9 453.5L497.9 442.4L498.9 448.4L499.9 496.7L500.9 340.4L501.9 450.5L502.9 492.2L503.9 374.7L504.9 440.5L505.9 491.2L507.0 366.1L508.0 341.8L509.0 426.8L510.0 339.5L511.0 319.3L512.0 357.3L513.0 367.2L514.0 332.7L515.0 472.4L516.0 454.0L517.0 366.4L518.0 386.5L519.1 424.5L520.1 337.7L521.1 440.1L522.1 430.3L523.1 470.1L524.1 410.4L525.1 366.9L526.1 177.2L527.1 387.0L528.1 468.3L529.1 412.0L530.1 422.0L531.1 377.8L532.2 290.7L533.2 434.4L534.2 276.6L535.2 298.6L536.2 383.1L537.2 340.2L538.2 371.7L539.2 461.6L540.2 426.3L541.2 394.6L542.2 408.1L543.2 358.6L544.2 303.1L545.3 426.4L546.3 396.9L547.3 368.8L548.3 349.3L549.3 313.7L550.3 443.0L551.3 493.2L552.3 268.4L553.3 434.9L554.3 313.9L555.3 396.4L556.3 349.8L557.4 333.9L558.4 355.2L559.4 358.0L560.4 381.2L561.4 428.7L562.4 353.1L563.4 334.4L564.4 467.5L565.4 474.8L566.4 468.2L567.4 341.8L568.4 378.2L569.4 343.4L570.5 348.0L571.5 349.1L572.5 290.2L573.5 454.5L574.5 443.3L575.5 348.2L576.5 290.7L577.5 369.8L578.5 292.1L579.5 334.9L580.5 480.3L581.5 365.5L582.6 244.5L583.6 291.7L584.6 312.3L585.6 339.0L586.6 486.9L587.6 322.5L588.6 469.2L589.6 344.9L590.6 355.0L591.6 341.0L592.6 443.7L593.6 147.2L594.6 306.5L595.7 341.0L596.7 339.5L597.7 281.6L598.7 314.9L599.7 272.7L600.7 415.9L601.7 479.6L602.7 350.3L603.7 111.8L604.7 296.9L605.7 442.2L606.7 337.4L607.7 287.0L608.8 332.6L609.8 267.3L610.8 318.3L611.8 331.6L612.8 472.2L613.8 442.8L614.8 304.1L615.8 498.3L616.8 319.3L617.8 316.1L618.8 307.6L619.8 289.2L620.9 267.6L621.9 283.2L622.9 337.1L623.9 329.2L624.9 280.5L625.9 327.4L626.9 470.0L627.9 193.7L628.9 128.9L629.9 469.6L630.9 295.4L631.9 350.2L632.9 323.6L634.0 399.0L635.0 226.7L636.0 327.5L637.0 185.8L638.0 144.2L639.0 286.6L640.0 325.6L641.0 337.5L642.0 322.7L643.0 289.5L644.0 322.9L645.0 356.7L646.1 476.9L647.1 294.8L648.1 155.2L649.1 242.6L650.1 296.6L651.1 135.0L652.1 368.6L653.1 498.6L654.1 310.0L655.1 446.5L656.1 490.0L657.1 422.2L658.1 150.9L659.2 272.0L660.2 149.7L661.2 163.1L662.2 360.9L663.2 343.1L664.2 374.0L665.2 308.4L666.2 261.1L667.2 163.1L668.2 359.8L669.2 342.8L670.2 306.9L671.2 459.8L672.3 437.5L673.3 340.5L674.3 468.0L675.3 383.6L676.3 383.5L677.3 331.4L678.3 299.4L679.3 326.4L680.3 277.1L681.3 301.4L682.3 281.4L683.3 321.6L684.4 140.5L685.4 448.7L686.4 344.3L687.4 308.0L688.4 364.0L689.4 283.8L690.4 273.5L691.4 292.1L692.4 492.9L693.4 273.9L694.4 271.4L695.4 340.9L696.4 365.9L697.5 303.2L698.5 442.9L699.5 292.8L700.5 320.1L701.5 427.5L702.5 257.9L703.5 304.1L704.5 365.6L705.5 322.1L706.5 434.9L707.5 133.2L708.5 338.1L709.6 493.2L710.6 342.5L711.6 311.0L712.6 276.3L713.6 268.7L714.6 185.1L715.6 447.3L716.6 386.7L717.6 288.5L718.6 460.7L719.6 329.0L720.6 482.2L721.6 420.5L722.7 289.2L723.7 439.9L724.7 451.5L725.7 292.7L726.7 471.7L727.7 473.6L728.7 374.6L729.7 356.4L730.7 320.7L731.7 435.2L732.7 347.2L733.7 356.0L734.7 317.6L735.8 311.9L736.8 347.6L737.8 342.6L738.8 444.3L739.8 262.0L740.8 431.8L741.8 351.6L742.8 490.4L743.8 356.0L744.8 422.8L745.8 332.0L746.8 298.2L747.9 368.0L748.9 461.1L749.9 457.0L750.9 391.6L751.9 498.0L752.9 433.4L753.9 436.0L754.9 472.6L755.9 280.3L756.9 144.8L757.9 183.9L758.9 464.3L759.9 441.4L761.0 330.9L762.0 426.4L763.0 351.1L764.0 370.1L765.0 337.0L766.0 318.2L767.0 395.4L768.0 443.3L769.0 144.2L770.0 380.7L771.0 431.3L772.0 374.1L773.1 427.5L774.1 334.7L775.1 351.1L776.1 481.5L777.1 283.8L778.1 475.1L779.1 310.7L780.1 464.3L781.1 396.3L782.1 446.2L783.1 386.7L784.1 411.0L785.1 404.1L786.2 434.3L787.2 325.1L788.2 355.9L789.2 477.1L790.2 335.6L791.2 463.9L792.2 301.5L793.2 174.1L794.2 436.9L795.2 485.3L796.2 365.3L797.2 386.1L798.2 393.5L799.3 333.7L800.3 361.2L801.3 320.9L802.3 319.4L803.3 474.4L804.3 349.6L805.3 433.8L806.3 274.3L807.3 352.3L808.3 304.9L809.3 348.1L810.3 367.1L811.4 360.7L812.4 442.4L813.4 359.6L814.4 376.2L815.4 276.1L816.4 290.4L817.4 299.7L818.4 271.1L819.4 269.3L820.4 267.4L821.4 286.7L822.4 320.1L823.4 122.2L824.5 267.0L825.5 153.3L826.5 293.2L827.5 271.8L828.5 144.8L829.5 296.8L830.5 268.4L831.5 339.1L832.5 281.8L833.5 277.9L834.5 225.5L835.5 268.2L836.5 320.4L837.6 356.3L838.6 281.0L839.6 468.7L840.6 332.1L841.6 125.2L842.6 158.9L843.6 267.8L844.6 461.0L845.6 278.5L846.6 354.1L847.6 296.9L848.6 340.7L849.7 131.3L850.7 290.0L851.7 347.8L852.7 324.9L853.7 147.8L854.7 357.3L855.7 356.7L856.7 339.9L857.7 288.8L858.7 138.7L859.7 303.1L860.7 433.8L861.7 154.6L862.8 435.2L863.8 261.1L864.8 118.5"/>
<path stroke="#2ca02c" stroke-width="2.78" d="M160.3 484.0L162.8 484.0L165.3 483.8L167.8 483.8L170.3 483.8L172.8 483.7L175.3 483.6L177.8 483.5L180.3 483.5L182.8 483.4L185.3 483.3L187.8 483.3L190.3 483.1L192.8 483.1L195.3 483.1L197.8 483.0L200.3 482.8L202.8 482.7L205.3 482.6L207.8 482.6L210.3 482.5L212.8 482.3L215.3 482.1L217.8 482.0L220.3 481.9L222.8 481.7L225.3 481.5L227.8 481.4L230.3 481.3L232.8 481.0L235.3 480.8L237.8 480.6L240.3 480.4L242.8 480.2L245.3 480.0L247.8 479.8L250.3 479.5L252.8 479.3L255.3 479.1L257.8 479.0L260.3 478.8L262.8 478.4L265.3 478.1L267.8 477.9L270.3 477.7L272.8 477.4L275.3 477.2L277.8 476.9L280.3 476.6L282.8 476.3L285.3 476.1L287.8 475.8L290.3 475.4L292.8 475.0L295.3 474.5L297.8 473.9L300.3 473.4L302.8 472.9L305.3 472.5L307.8 472.3L310.3 472.0L312.8 471.6L315.3 471.3L317.8 470.9L320.3 470.2L322.8 469.1L325.3 468.1L327.8 467.0L330.3 465.7L332.8 464.4L335.3 463.1L337.8 461.9L340.3 460.9L342.8 459.9L345.3 458.8L347.8 457.5L350.3 456.1L352.8 454.7L355.3 453.3L357.8 452.0L360.3 450.9L362.8 449.7L365.3 448.6L367.8 447.3L370.3 445.6L372.8 443.9L375.3 442.5L377.8 441.3L380.3 440.2L382.8 438.8L385.3 436.9L387.8 435.1L390.3 433.9L392.8 432.8L395.3 432.0L397.8 431.2L400.3 430.4L402.8 429.4L405.3 428.6L407.8 427.9L410.3 427.1L412.8 426.4L415.3 425.7L417.8 425.0L420.3 424.1L422.8 423.2L425.3 422.5L427.8 421.7L430.3 420.6L432.8 419.5L435.3 418.3L437.8 417.2L440.3 415.9L442.8 414.7L445.3 413.6L447.8 412.4L450.3 411.1L452.8 409.6L455.3 408.2L457.8 406.8L460.3 405.5L462.8 404.4L465.3 403.3L467.8 402.3L470.3 401.3L472.8 400.2L475.3 399.2L477.8 398.4L480.3 397.4L482.8 396.4L485.3 395.4L487.8 394.6L490.3 394.0L492.8 393.4L495.3 393.0L497.8 392.8L500.3 392.5L502.8 392.2L505.3 391.7L507.8 391.2L510.3 390.7L512.8 390.2L515.3 389.8L517.8 389.5L520.3 389.1L522.8 388.6L525.3 388.1L527.8 387.6L530.3 387.2L532.8 386.6L535.3 385.9L537.8 385.1L540.3 384.3L542.8 383.0L545.3 381.3L547.8 379.7L550.3 378.1L552.8 376.6L555.3 375.0L557.8 373.6L560.3 372.1L562.8 370.6L565.3 369.3L567.8 368.1L570.3 366.9L572.8 365.5L575.3 364.1L577.8 362.6L580.3 360.9L582.8 358.1L585.3 355.0L587.8 353.0L590.3 351.6L592.8 350.4L595.3 349.2L597.8 347.8L600.3 346.4L602.8 344.9L605.3 343.6L607.8 342.5L610.3 341.3L612.8 340.2L615.3 339.2L617.8 338.3L620.3 337.5L622.8 336.7L625.3 336.1L627.8 335.6L630.3 335.4L632.8 335.2L635.3 335.2L637.8 335.2L640.3 335.2L642.8 335.3L645.3 335.3L647.8 335.4L650.3 335.6L652.8 335.9L655.3 336.0L657.8 336.2L660.3 336.7L662.8 337.3L665.3 338.0L667.8 338.6L670.3 339.1L672.8 339.6L675.3 340.0L677.8 340.6L680.3 340.8L682.8 340.9L685.3 340.9L687.8 341.0L690.3 341.1L692.8 341.3L695.3 341.3L697.8 341.4L700.3 341.6L702.8 341.7L705.3 341.8L707.8 342.0L710.3 342.1L712.8 342.3L715.3 342.8L717.8 343.2L720.3 343.7L722.8 344.3L725.3 345.0L727.8 345.8L730.3 346.8L732.8 348.0L735.3 349.1L737.8 350.1L740.3 351.1L742.8 352.1L745.3 352.9L747.8 353.8L750.3 354.8L752.8 355.8L755.3 356.9L757.8 357.9L760.3 358.9L762.8 360.0L765.3 361.0L767.8 361.8L770.3 362.7L772.8 363.6L775.3 364.5L777.8 365.4L780.3 366.1L782.8 366.9L785.3 367.6L787.8 368.2L790.3 368.5L792.8 368.4L795.3 368.3L797.8 368.4L800.3 368.4L802.8 368.2L805.3 367.8L807.8 366.8L810.3 365.3L812.8 364.1L815.3 363.3L817.8 362.2L820.3 360.4L822.8 357.8L825.3 355.0L827.8 352.0L830.3 349.3L832.8 347.3L835.3 345.3L837.8 341.9L840.3 338.3L842.8 336.1L845.3 334.9L847.8 334.0L850.3 332.9L852.8 331.9L855.3 331.2L857.8 330.7L860.3 330.3L862.8 330.2L865.2 330.1"/>
</g>
<rect x="135.5" y="82.5" width="241" height="178" rx="3.9" ry="3.9" fill="#fff" fill-opacity="0.8" stroke="#cccccc" stroke-opacity="0.8" stroke-width="1.39"/>
<line x1="142.1" y1="98.50" x2="182.9" y2="98.50" stroke="#1f77b4" stroke-width="2.78"/>
<text x="197.19" y="104.38" font-size="20.60" textLength="148.82" lengthAdjust="spacingAndGlyphs">Dreamer (ours)</text>
<line x1="142.1" y1="126.50" x2="182.9" y2="126.50" stroke="#ff7f0e" stroke-width="2.78"/>
<text x="197.17" y="133.11" font-size="20.60" textLength="170.19" lengthAdjust="spacingAndGlyphs">Dreamer (vanilla)</text>
<line x1="142.1" y1="155.50" x2="182.9" y2="155.50" stroke="#8c564b" stroke-width="2.78"/>
<text x="197.36" y="161.83" font-size="20.60" textLength="121.98" lengthAdjust="spacingAndGlyphs">SAC (vector)</text>
<line x1="142.1" y1="184.50" x2="182.9" y2="184.50" stroke="#d62728" stroke-width="2.78"/>
<text x="197.49" y="190.55" font-size="20.60" textLength="37.49" lengthAdjust="spacingAndGlyphs">SAC</text>
<line x1="142.1" y1="213.50" x2="182.9" y2="213.50" stroke="#9467bd" stroke-width="2.78"/>
<text x="197.33" y="219.27" font-size="20.60" textLength="152.96" lengthAdjust="spacingAndGlyphs">Scripted Motion</text>
<line x1="142.1" y1="241.50" x2="182.9" y2="241.50" stroke="#2ca02c" stroke-width="2.78"/>
<text x="198.51" y="248.00" font-size="20.60" textLength="41.03" lengthAdjust="spacingAndGlyphs">RAIF</text>
<rect x="125.5" y="72.5" width="775" height="462" fill="none" stroke="#000" stroke-width="1.11"/>
<g stroke="#000" stroke-width="1.11"><line x1="160.5" y1="534.5" x2="160.5" y2="539.4"/><line x1="301.5" y1="534.5" x2="301.5" y2="539.4"/><line x1="442.5" y1="534.5" x2="442.5" y2="539.4"/><line x1="583.5" y1="534.5" x2="583.5" y2="539.4"/><line x1="724.5" y1="534.5" x2="724.5" y2="539.4"/><line x1="865.5" y1="534.5" x2="865.5" y2="539.4"/><line x1="120.6" y1="480.5" x2="125.5" y2="480.5"/><line x1="120.6" y1="419.5" x2="125.5" y2="419.5"/><line x1="120.6" y1="358.5" x2="125.5" y2="358.5"/><line x1="120.6" y1="297.5" x2="125.5" y2="297.5"/><line x1="120.6" y1="235.5" x2="125.5" y2="235.5"/><line x1="120.6" y1="174.5" x2="125.5" y2="174.5"/><line x1="120.6" y1="113.5" x2="125.5" y2="113.5"/></g>
<text x="145.47" y="558.70" font-size="20.60" textLength="28.71" lengthAdjust="spacingAndGlyphs" stroke="#000" stroke-width="0.12">0.0</text>
<text x="286.48" y="558.70" font-size="20.60" textLength="28.43" lengthAdjust="spacingAndGlyphs" stroke="#000" stroke-width="0.12">0.2</text>
<text x="427.46" y="558.70" font-size="20.60" textLength="28.90" lengthAdjust="spacingAndGlyphs" stroke="#000" stroke-width="0.12">0.4</text>
<text x="568.46" y="558.70" font-size="20.60" textLength="28.99" lengthAdjust="spacingAndGlyphs" stroke="#000" stroke-width="0.12">0.6</text>
<text x="709.46" y="558.70" font-size="20.60" textLength="28.93" lengthAdjust="spacingAndGlyphs" stroke="#000" stroke-width="0.12">0.8</text>
<text x="849.51" y="558.70" font-size="20.60" textLength="28.80" lengthAdjust="spacingAndGlyphs" stroke="#000" stroke-width="0.12">1.0</text>
<text x="85.48" y="487.70" font-size="20.60" textLength="28.45" lengthAdjust="spacingAndGlyphs" stroke="#000" stroke-width="0.12">0.1</text>
<text x="85.48" y="426.70" font-size="20.60" textLength="28.43" lengthAdjust="spacingAndGlyphs" stroke="#000" stroke-width="0.12">0.2</text>
<text x="85.47" y="365.70" font-size="20.60" textLength="28.66" lengthAdjust="spacingAndGlyphs" stroke="#000" stroke-width="0.12">0.3</text>
<text x="85.46" y="303.70" font-size="20.60" textLength="28.90" lengthAdjust="spacingAndGlyphs" stroke="#000" stroke-width="0.12">0.4</text>
<text x="85.48" y="242.70" font-size="20.60" textLength="28.35" lengthAdjust="spacingAndGlyphs" stroke="#000" stroke-width="0.12">0.5</text>
<text x="85.46" y="181.70" font-size="20.60" textLength="28.99" lengthAdjust="spacingAndGlyphs" stroke="#000" stroke-width="0.12">0.6</text>
<text x="85.46" y="120.70" font-size="20.60" textLength="28.82" lengthAdjust="spacingAndGlyphs" stroke="#000" stroke-width="0.12">0.7</text>
<text x="874.63" y="577.80" font-size="14.75" textLength="24.22" lengthAdjust="spacingAndGlyphs" stroke="#000" stroke-width="0.12">1e6</text>
<text x="432.08" y="586.60" font-size="26.40" font-weight="bold" textLength="161.20" lengthAdjust="spacingAndGlyphs" stroke="#000" stroke-width="0.2">Steps (1e6)</text>
<text transform="translate(72.90 445.75) rotate(-90)" x="-2.05" y="0" font-size="26.40" font-weight="bold" textLength="287.25" lengthAdjust="spacingAndGlyphs" stroke="#000" stroke-width="0.2">Return (Normalized)</text>
</svg></body></html>
